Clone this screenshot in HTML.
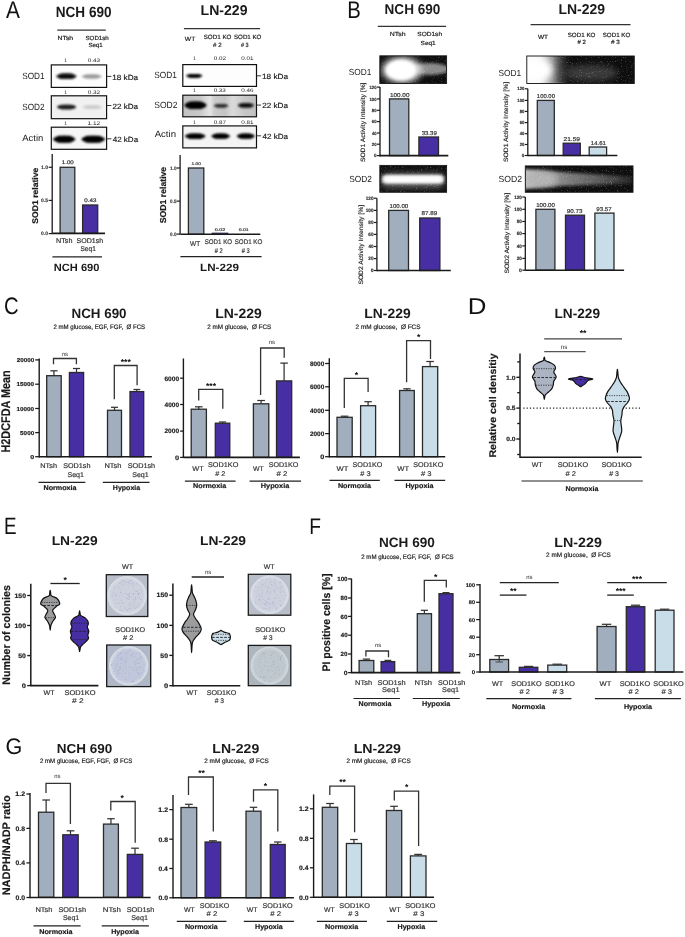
<!DOCTYPE html>
<html><head><meta charset="utf-8"><title>Figure</title>
<style>
html,body{margin:0;padding:0;background:#fff;}
svg{display:block;font-family:"Liberation Sans",sans-serif;will-change:transform;text-rendering:geometricPrecision;}
</style></head><body>
<svg width="685" height="937" viewBox="0 0 685 937">
<defs>
<filter id="bl1" x="-30%" y="-80%" width="160%" height="260%"><feGaussianBlur stdDeviation="0.7"/></filter>
<filter id="blb" x="-30%" y="-80%" width="160%" height="260%"><feGaussianBlur stdDeviation="0.85"/></filter>
<filter id="bl2" x="-30%" y="-80%" width="160%" height="260%"><feGaussianBlur stdDeviation="1.5"/></filter>
<filter id="bl3" x="-50%" y="-100%" width="200%" height="300%"><feGaussianBlur stdDeviation="3"/></filter>
<filter id="noise" x="0" y="0" width="100%" height="100%"><feTurbulence type="fractalNoise" baseFrequency="1.2" numOctaves="2" seed="3" result="n"/><feColorMatrix in="n" type="matrix" values="0 0 0 0 1  0 0 0 0 1  0 0 0 0 1  0 0 0 5 -3.0"/></filter>
<linearGradient id="sod2g" x1="0" x2="1" y1="0" y2="0">
<stop offset="0" stop-color="#c2c2c2"/><stop offset="0.23" stop-color="#c8c8c8"/><stop offset="0.33" stop-color="#dcdcdc"/><stop offset="0.37" stop-color="#e4e4e4"/><stop offset="0.43" stop-color="#cccccc"/><stop offset="0.57" stop-color="#c4c4c4"/><stop offset="0.67" stop-color="#dadada"/><stop offset="0.72" stop-color="#d6d6d6"/><stop offset="0.84" stop-color="#c6c6c6"/><stop offset="1" stop-color="#c0c0c0"/>
</linearGradient>
<linearGradient id="lnsod1" x1="0" x2="1" y1="0" y2="0"><stop offset="0" stop-color="#ffffff"/><stop offset="0.4" stop-color="#f4f4f4"/><stop offset="0.62" stop-color="#9a9a9a"/><stop offset="0.85" stop-color="#3a3a3a" stop-opacity="0.6"/><stop offset="1" stop-color="#1a1a1a" stop-opacity="0"/></linearGradient>
<linearGradient id="lnsod2" x1="0" x2="1" y1="0" y2="0"><stop offset="0" stop-color="#c4c4c4"/><stop offset="0.3" stop-color="#8a8a8a"/><stop offset="0.7" stop-color="#5a5a5a"/><stop offset="1" stop-color="#262626"/></linearGradient>
</defs>
<rect x="0" y="0" width="685" height="937" fill="#ffffff"/>
<text x="6.06" y="17.50" font-size="24.13" fill="#111" textLength="13.88" lengthAdjust="spacingAndGlyphs">A</text>
<text x="55.69" y="16.90" font-size="14.8" font-weight="bold" fill="#1a1a1a" textLength="55.87" lengthAdjust="spacingAndGlyphs">NCH 690</text>
<line x1="57.30" y1="30.10" x2="105.80" y2="30.10" stroke="#333" stroke-width="1.3"/>
<text x="57.57" y="40.00" font-size="5.9" font-weight="normal" fill="#1a1a1a" stroke="#1a1a1a" stroke-width="0.18" textLength="15.56" lengthAdjust="spacingAndGlyphs">NTsh</text>
<text x="85.52" y="40.00" font-size="5.9" font-weight="normal" fill="#1a1a1a" stroke="#1a1a1a" stroke-width="0.18" textLength="23.28" lengthAdjust="spacingAndGlyphs">SOD1sh</text>
<text x="88.42" y="46.90" font-size="5.9" font-weight="normal" fill="#1a1a1a" stroke="#1a1a1a" stroke-width="0.18" textLength="14.17" lengthAdjust="spacingAndGlyphs">Seq1</text>
<text x="64.30" y="61.90" font-size="5.0" font-weight="normal" fill="#222">1</text>
<text x="87.75" y="61.90" font-size="5.2" font-weight="normal" fill="#222" textLength="12.33" lengthAdjust="spacingAndGlyphs">0.43</text>
<text x="64.30" y="93.90" font-size="5.0" font-weight="normal" fill="#222">1</text>
<text x="87.75" y="93.90" font-size="5.2" font-weight="normal" fill="#222" textLength="12.37" lengthAdjust="spacingAndGlyphs">0.32</text>
<text x="64.30" y="125.00" font-size="5.0" font-weight="normal" fill="#222">1</text>
<text x="87.51" y="125.00" font-size="5.2" font-weight="normal" fill="#222" textLength="12.62" lengthAdjust="spacingAndGlyphs">1.12</text>
<rect x="51.30" y="64.90" width="55.30" height="22.50" fill="#fdfdfd" stroke="none" stroke-width="0"/>
<g filter="url(#blb)" opacity="1"><ellipse cx="66.35" cy="76.30" rx="10.15" ry="2.70" fill="#080808"/><rect x="58.64" y="73.60" width="15.43" height="5.40" rx="2.70" fill="#080808"/></g>
<g filter="url(#blb)" opacity="1"><ellipse cx="91.70" cy="76.40" rx="10.00" ry="2.00" fill="#9a9a9a"/><rect x="84.10" y="74.40" width="15.20" height="4.00" rx="2.00" fill="#9a9a9a"/></g>
<rect x="51.30" y="64.90" width="55.30" height="22.50" fill="none" stroke="#111" stroke-width="1.2"/>
<rect x="51.30" y="95.80" width="55.30" height="22.90" fill="#f1f1f1" stroke="none" stroke-width="0"/>
<g filter="url(#blb)" opacity="1"><ellipse cx="66.55" cy="107.00" rx="9.65" ry="2.30" fill="#1a1a1a"/><rect x="59.22" y="104.70" width="14.67" height="4.60" rx="2.30" fill="#1a1a1a"/></g>
<g filter="url(#blb)" opacity="1"><ellipse cx="92.20" cy="107.20" rx="9.50" ry="1.90" fill="#cdcdcd"/><rect x="84.98" y="105.30" width="14.44" height="3.80" rx="1.90" fill="#cdcdcd"/></g>
<rect x="51.30" y="95.80" width="55.30" height="22.90" fill="none" stroke="#111" stroke-width="1.2"/>
<rect x="51.30" y="127.20" width="55.30" height="22.10" fill="#f6f6f6" stroke="none" stroke-width="0"/>
<g filter="url(#blb)" opacity="1"><ellipse cx="64.20" cy="139.20" rx="11.20" ry="3.50" fill="#050505"/><rect x="55.69" y="135.70" width="17.02" height="7.00" rx="3.50" fill="#050505"/></g>
<g filter="url(#blb)" opacity="1"><ellipse cx="93.20" cy="139.20" rx="11.90" ry="3.50" fill="#050505"/><rect x="84.16" y="135.70" width="18.09" height="7.00" rx="3.50" fill="#050505"/></g>
<rect x="51.30" y="127.20" width="55.30" height="22.10" fill="none" stroke="#111" stroke-width="1.2"/>
<text x="22.23" y="79.00" font-size="9" font-weight="normal" fill="#1a1a1a" textLength="22.37" lengthAdjust="spacingAndGlyphs">SOD1</text>
<text x="22.23" y="110.30" font-size="9" font-weight="normal" fill="#1a1a1a" textLength="22.39" lengthAdjust="spacingAndGlyphs">SOD2</text>
<text x="22.28" y="141.40" font-size="9" font-weight="normal" fill="#1a1a1a" textLength="21.03" lengthAdjust="spacingAndGlyphs">Actin</text>
<line x1="106.60" y1="76.40" x2="111.40" y2="76.40" stroke="#222" stroke-width="0.9"/>
<text x="112.28" y="79.70" font-size="7.5" font-weight="normal" fill="#1a1a1a" stroke="#1a1a1a" stroke-width="0.18" textLength="25.82" lengthAdjust="spacingAndGlyphs">18 kDa</text>
<line x1="106.60" y1="105.50" x2="111.40" y2="105.50" stroke="#222" stroke-width="0.9"/>
<text x="112.49" y="108.80" font-size="7.5" font-weight="normal" fill="#1a1a1a" stroke="#1a1a1a" stroke-width="0.18" textLength="25.61" lengthAdjust="spacingAndGlyphs">22 kDa</text>
<line x1="106.60" y1="138.80" x2="111.40" y2="138.80" stroke="#222" stroke-width="0.9"/>
<text x="112.72" y="142.10" font-size="7.5" font-weight="normal" fill="#1a1a1a" stroke="#1a1a1a" stroke-width="0.18" textLength="25.38" lengthAdjust="spacingAndGlyphs">42 kDa</text>
<line x1="52.20" y1="154.00" x2="52.20" y2="234.25" stroke="#1a1a1a" stroke-width="1.3"/>
<line x1="48.70" y1="167.30" x2="52.20" y2="167.30" stroke="#1a1a1a" stroke-width="1.1700000000000002"/>
<text x="40.98" y="169.06" font-size="4.9" font-weight="bold" fill="#444" stroke="#444" stroke-width="0.18" textLength="7.13" lengthAdjust="spacingAndGlyphs">1.0</text>
<line x1="48.70" y1="200.40" x2="52.20" y2="200.40" stroke="#1a1a1a" stroke-width="1.1700000000000002"/>
<text x="41.10" y="202.16" font-size="4.9" font-weight="bold" fill="#444" stroke="#444" stroke-width="0.18" textLength="6.94" lengthAdjust="spacingAndGlyphs">0.5</text>
<line x1="48.70" y1="233.60" x2="52.20" y2="233.60" stroke="#1a1a1a" stroke-width="1.1700000000000002"/>
<text x="41.10" y="235.36" font-size="4.9" font-weight="bold" fill="#444" stroke="#444" stroke-width="0.18" textLength="7.01" lengthAdjust="spacingAndGlyphs">0.0</text>
<rect x="60.10" y="167.30" width="14.70" height="66.10" fill="#a0aebd" stroke="#2a2a2a" stroke-width="1.3"/>
<rect x="82.60" y="205.00" width="15.10" height="28.40" fill="#472fa3" stroke="#2a2a2a" stroke-width="1.3"/>
<line x1="52.60" y1="233.40" x2="105.00" y2="233.40" stroke="#1a1a1a" stroke-width="1.6"/>
<text x="61.83" y="164.00" font-size="5.2" font-weight="normal" fill="#333" stroke="#333" stroke-width="0.18" textLength="11.90" lengthAdjust="spacingAndGlyphs">1.00</text>
<text x="84.36" y="202.30" font-size="5.2" font-weight="normal" fill="#333" stroke="#333" stroke-width="0.18" textLength="12.01" lengthAdjust="spacingAndGlyphs">0.43</text>
<text transform="translate(38.30,223.65) rotate(-90)" x="0" y="0" font-size="8.3" font-weight="bold" fill="#1a1a1a" stroke="#1a1a1a" stroke-width="0.2" textLength="55.94" lengthAdjust="spacingAndGlyphs">SOD1 relative</text>
<text x="56.04" y="242.70" font-size="6.8" font-weight="normal" fill="#333" stroke="#333" stroke-width="0.18" textLength="16.41" lengthAdjust="spacingAndGlyphs">NTsh</text>
<text x="76.48" y="242.70" font-size="6.8" font-weight="normal" fill="#333" stroke="#333" stroke-width="0.18" textLength="26.78" lengthAdjust="spacingAndGlyphs">SOD1sh</text>
<text x="80.50" y="250.90" font-size="6.8" font-weight="normal" fill="#333" stroke="#333" stroke-width="0.18" textLength="15.32" lengthAdjust="spacingAndGlyphs">Seq1</text>
<line x1="52.40" y1="256.80" x2="102.00" y2="256.80" stroke="#222" stroke-width="1.2"/>
<text x="53.86" y="270.80" font-size="10.5" font-weight="bold" fill="#1a1a1a" textLength="45.60" lengthAdjust="spacingAndGlyphs">NCH 690</text>
<text x="200.56" y="15.40" font-size="14.2" font-weight="bold" fill="#1a1a1a" textLength="46.96" lengthAdjust="spacingAndGlyphs">LN-229</text>
<line x1="183.90" y1="28.60" x2="260.10" y2="28.60" stroke="#333" stroke-width="1.3"/>
<text x="184.87" y="40.90" font-size="6.2" font-weight="normal" fill="#1a1a1a" stroke="#1a1a1a" stroke-width="0.18" textLength="10.38" lengthAdjust="spacingAndGlyphs">WT</text>
<text x="203.72" y="38.80" font-size="6.2" font-weight="normal" fill="#1a1a1a" stroke="#1a1a1a" stroke-width="0.18" textLength="27.68" lengthAdjust="spacingAndGlyphs">SOD1 KO</text>
<text x="213.07" y="47.20" font-size="6.2" font-weight="normal" fill="#1a1a1a" stroke="#1a1a1a" stroke-width="0.18" textLength="8.54" lengthAdjust="spacingAndGlyphs"># 2</text>
<text x="234.02" y="38.80" font-size="6.2" font-weight="normal" fill="#1a1a1a" stroke="#1a1a1a" stroke-width="0.18" textLength="27.37" lengthAdjust="spacingAndGlyphs">SOD1 KO</text>
<text x="240.98" y="47.20" font-size="6.2" font-weight="normal" fill="#1a1a1a" stroke="#1a1a1a" stroke-width="0.18" textLength="7.67" lengthAdjust="spacingAndGlyphs"># 3</text>
<text x="193.00" y="59.90" font-size="5.0" font-weight="normal" fill="#222">1</text>
<text x="213.65" y="59.90" font-size="5.2" font-weight="normal" fill="#222" textLength="12.26" lengthAdjust="spacingAndGlyphs">0.02</text>
<text x="241.25" y="59.90" font-size="5.2" font-weight="normal" fill="#222" textLength="12.25" lengthAdjust="spacingAndGlyphs">0.01</text>
<text x="193.00" y="92.40" font-size="5.0" font-weight="normal" fill="#222">1</text>
<text x="213.65" y="92.40" font-size="5.2" font-weight="normal" fill="#222" textLength="12.22" lengthAdjust="spacingAndGlyphs">0.33</text>
<text x="241.25" y="92.40" font-size="5.2" font-weight="normal" fill="#222" textLength="12.22" lengthAdjust="spacingAndGlyphs">0.46</text>
<text x="193.00" y="123.70" font-size="5.0" font-weight="normal" fill="#222">1</text>
<text x="213.65" y="123.70" font-size="5.2" font-weight="normal" fill="#222" textLength="12.26" lengthAdjust="spacingAndGlyphs">0.87</text>
<text x="241.25" y="123.70" font-size="5.2" font-weight="normal" fill="#222" textLength="12.25" lengthAdjust="spacingAndGlyphs">0.81</text>
<rect x="182.80" y="64.60" width="73.70" height="21.80" fill="#fdfdfd" stroke="none" stroke-width="0"/>
<g filter="url(#blb)" opacity="1"><ellipse cx="194.20" cy="75.80" rx="8.20" ry="1.90" fill="#060606"/><rect x="187.97" y="73.90" width="12.46" height="3.80" rx="1.90" fill="#060606"/></g>
<rect x="182.80" y="64.60" width="73.70" height="21.80" fill="none" stroke="#111" stroke-width="1.2"/>
<rect x="182.8" y="95.2" width="73.7" height="21.6" fill="url(#sod2g)"/>
<g filter="url(#blb)" opacity="1"><ellipse cx="195.50" cy="105.20" rx="11.10" ry="3.80" fill="#000000"/><rect x="187.06" y="101.40" width="16.87" height="7.60" rx="3.80" fill="#000000"/></g>
<g filter="url(#blb)" opacity="1"><ellipse cx="221.05" cy="105.80" rx="7.25" ry="1.70" fill="#2a2a2a"/><rect x="215.54" y="104.10" width="11.02" height="3.40" rx="1.70" fill="#2a2a2a"/></g>
<g filter="url(#blb)" opacity="1"><ellipse cx="245.90" cy="105.40" rx="8.10" ry="2.20" fill="#0c0c0c"/><rect x="239.74" y="103.20" width="12.31" height="4.40" rx="2.20" fill="#0c0c0c"/></g>
<rect x="182.80" y="95.20" width="73.70" height="21.60" fill="none" stroke="#111" stroke-width="1.2"/>
<rect x="182.80" y="125.90" width="73.70" height="22.00" fill="#f4f4f4" stroke="none" stroke-width="0"/>
<g filter="url(#blb)" opacity="1"><ellipse cx="195.20" cy="136.20" rx="10.30" ry="2.70" fill="#050505"/><rect x="187.37" y="133.50" width="15.66" height="5.40" rx="2.70" fill="#050505"/></g>
<g filter="url(#blb)" opacity="1"><ellipse cx="220.70" cy="136.20" rx="9.30" ry="2.60" fill="#060606"/><rect x="213.63" y="133.60" width="14.14" height="5.20" rx="2.60" fill="#060606"/></g>
<g filter="url(#blb)" opacity="1"><ellipse cx="245.80" cy="136.20" rx="9.00" ry="2.60" fill="#060606"/><rect x="238.96" y="133.60" width="13.68" height="5.20" rx="2.60" fill="#060606"/></g>
<rect x="182.80" y="125.90" width="73.70" height="22.00" fill="none" stroke="#111" stroke-width="1.2"/>
<text x="154.32" y="78.30" font-size="9" font-weight="normal" fill="#1a1a1a" textLength="22.58" lengthAdjust="spacingAndGlyphs">SOD1</text>
<text x="154.31" y="108.30" font-size="9" font-weight="normal" fill="#1a1a1a" textLength="23.22" lengthAdjust="spacingAndGlyphs">SOD2</text>
<text x="154.68" y="136.90" font-size="9" font-weight="normal" fill="#1a1a1a" textLength="21.34" lengthAdjust="spacingAndGlyphs">Actin</text>
<line x1="256.50" y1="75.80" x2="261.10" y2="75.80" stroke="#222" stroke-width="0.9"/>
<text x="261.97" y="78.80" font-size="7.5" font-weight="normal" fill="#1a1a1a" stroke="#1a1a1a" stroke-width="0.18" textLength="26.03" lengthAdjust="spacingAndGlyphs">18 kDa</text>
<line x1="256.50" y1="105.10" x2="261.10" y2="105.10" stroke="#222" stroke-width="0.9"/>
<text x="262.19" y="108.10" font-size="7.5" font-weight="normal" fill="#1a1a1a" stroke="#1a1a1a" stroke-width="0.18" textLength="25.81" lengthAdjust="spacingAndGlyphs">22 kDa</text>
<line x1="256.50" y1="135.80" x2="261.10" y2="135.80" stroke="#222" stroke-width="0.9"/>
<text x="262.41" y="138.80" font-size="7.5" font-weight="normal" fill="#1a1a1a" stroke="#1a1a1a" stroke-width="0.18" textLength="25.59" lengthAdjust="spacingAndGlyphs">42 kDa</text>
<line x1="180.10" y1="155.00" x2="180.10" y2="234.75" stroke="#1a1a1a" stroke-width="1.3"/>
<line x1="176.60" y1="168.00" x2="180.10" y2="168.00" stroke="#1a1a1a" stroke-width="1.1700000000000002"/>
<text x="170.01" y="169.76" font-size="4.9" font-weight="bold" fill="#444" stroke="#444" stroke-width="0.18" textLength="6.49" lengthAdjust="spacingAndGlyphs">1.0</text>
<line x1="176.60" y1="201.10" x2="180.10" y2="201.10" stroke="#1a1a1a" stroke-width="1.1700000000000002"/>
<text x="170.12" y="202.86" font-size="4.9" font-weight="bold" fill="#444" stroke="#444" stroke-width="0.18" textLength="6.31" lengthAdjust="spacingAndGlyphs">0.5</text>
<line x1="176.60" y1="234.10" x2="180.10" y2="234.10" stroke="#1a1a1a" stroke-width="1.1700000000000002"/>
<text x="170.12" y="235.86" font-size="4.9" font-weight="bold" fill="#444" stroke="#444" stroke-width="0.18" textLength="6.37" lengthAdjust="spacingAndGlyphs">0.0</text>
<rect x="188.40" y="168.00" width="15.40" height="66.30" fill="#a0aebd" stroke="#2a2a2a" stroke-width="1.3"/>
<rect x="212.00" y="233.00" width="16.00" height="1.30" fill="#472fa3" stroke="#2a2a2a" stroke-width="0.7"/>
<line x1="180.60" y1="234.30" x2="260.30" y2="234.30" stroke="#1a1a1a" stroke-width="1.6"/>
<text x="191.63" y="164.80" font-size="4.0" font-weight="normal" fill="#333" stroke="#333" stroke-width="0.18" textLength="9.35" lengthAdjust="spacingAndGlyphs">1.00</text>
<text x="214.79" y="230.60" font-size="4.0" font-weight="normal" fill="#333" stroke="#333" stroke-width="0.18" textLength="10.48" lengthAdjust="spacingAndGlyphs">0.02</text>
<text x="238.80" y="230.80" font-size="4.0" font-weight="normal" fill="#333" stroke="#333" stroke-width="0.18" textLength="9.84" lengthAdjust="spacingAndGlyphs">0.01</text>
<text transform="translate(166.40,223.25) rotate(-90)" x="0" y="0" font-size="8.6" font-weight="bold" fill="#1a1a1a" stroke="#1a1a1a" stroke-width="0.2" textLength="56.45" lengthAdjust="spacingAndGlyphs">SOD1 relative</text>
<text x="190.07" y="246.00" font-size="6.8" font-weight="normal" fill="#333" stroke="#333" stroke-width="0.18" textLength="10.08" lengthAdjust="spacingAndGlyphs">WT</text>
<text x="204.72" y="244.20" font-size="6.7" font-weight="normal" fill="#333" stroke="#333" stroke-width="0.18" textLength="27.37" lengthAdjust="spacingAndGlyphs">SOD1 KO</text>
<text x="214.77" y="252.50" font-size="6.7" font-weight="normal" fill="#333" stroke="#333" stroke-width="0.18" textLength="8.02" lengthAdjust="spacingAndGlyphs"># 2</text>
<text x="234.72" y="244.20" font-size="6.7" font-weight="normal" fill="#333" stroke="#333" stroke-width="0.18" textLength="27.58" lengthAdjust="spacingAndGlyphs">SOD1 KO</text>
<text x="241.77" y="252.50" font-size="6.7" font-weight="normal" fill="#333" stroke="#333" stroke-width="0.18" textLength="7.98" lengthAdjust="spacingAndGlyphs"># 3</text>
<line x1="180.40" y1="256.60" x2="261.60" y2="256.60" stroke="#222" stroke-width="1.2"/>
<text x="200.02" y="271.00" font-size="10.5" font-weight="bold" fill="#1a1a1a" textLength="38.91" lengthAdjust="spacingAndGlyphs">LN-229</text>
<text x="347.14" y="17.50" font-size="24.13" fill="#111" textLength="13.54" lengthAdjust="spacingAndGlyphs">B</text>
<text x="384.59" y="14.40" font-size="14.2" font-weight="bold" fill="#1a1a1a" textLength="55.76" lengthAdjust="spacingAndGlyphs">NCH 690</text>
<line x1="377.80" y1="26.40" x2="446.10" y2="26.40" stroke="#333" stroke-width="1.2"/>
<text x="389.86" y="36.00" font-size="5.9" font-weight="normal" fill="#1a1a1a" stroke="#1a1a1a" stroke-width="0.18" textLength="15.66" lengthAdjust="spacingAndGlyphs">NTsh</text>
<text x="417.30" y="36.00" font-size="5.9" font-weight="normal" fill="#1a1a1a" stroke="#1a1a1a" stroke-width="0.18" textLength="24.72" lengthAdjust="spacingAndGlyphs">SOD1sh</text>
<text x="420.61" y="44.60" font-size="5.9" font-weight="normal" fill="#1a1a1a" stroke="#1a1a1a" stroke-width="0.18" textLength="15.11" lengthAdjust="spacingAndGlyphs">Seq1</text>
<clipPath id="gc1"><rect x="379.8" y="55.8" width="66.80000000000001" height="27.700000000000003"/></clipPath>
<g clip-path="url(#gc1)">
<rect x="379.8" y="55.8" width="66.80000000000001" height="27.700000000000003" fill="#0e0e0e"/>
<ellipse cx="430" cy="69" rx="19" ry="6" fill="#8a8a8a" filter="url(#bl2)"/>
<ellipse cx="402" cy="70" rx="20" ry="13" fill="#dddddd" filter="url(#bl3)"/>
<ellipse cx="401" cy="70" rx="15" ry="10" fill="#ffffff" filter="url(#bl2)"/>
<rect x="379.8" y="55.8" width="66.80000000000001" height="27.700000000000003" fill="#000" filter="url(#noise)" opacity="0.22"/>
</g>
<rect x="379.80" y="55.80" width="66.80" height="27.70" fill="none" stroke="#111" stroke-width="0.9"/>
<text x="348.82" y="75.10" font-size="8.9" font-weight="normal" fill="#1a1a1a" textLength="22.69" lengthAdjust="spacingAndGlyphs">SOD1</text>
<line x1="380.00" y1="87.10" x2="380.00" y2="156.45" stroke="#1a1a1a" stroke-width="1.3"/>
<line x1="377.00" y1="87.10" x2="380.00" y2="87.10" stroke="#1a1a1a" stroke-width="1.1700000000000002"/>
<text x="369.53" y="88.72" font-size="4.5" font-weight="bold" fill="#333" stroke="#333" stroke-width="0.18" textLength="7.04" lengthAdjust="spacingAndGlyphs">120</text>
<line x1="377.00" y1="98.90" x2="380.00" y2="98.90" stroke="#1a1a1a" stroke-width="1.1700000000000002"/>
<text x="369.53" y="100.52" font-size="4.5" font-weight="bold" fill="#333" stroke="#333" stroke-width="0.18" textLength="7.04" lengthAdjust="spacingAndGlyphs">100</text>
<line x1="377.00" y1="110.30" x2="380.00" y2="110.30" stroke="#1a1a1a" stroke-width="1.1700000000000002"/>
<text x="371.87" y="111.92" font-size="4.5" font-weight="bold" fill="#333" stroke="#333" stroke-width="0.18" textLength="4.71" lengthAdjust="spacingAndGlyphs">80</text>
<line x1="377.00" y1="121.60" x2="380.00" y2="121.60" stroke="#1a1a1a" stroke-width="1.1700000000000002"/>
<text x="371.84" y="123.22" font-size="4.5" font-weight="bold" fill="#333" stroke="#333" stroke-width="0.18" textLength="4.73" lengthAdjust="spacingAndGlyphs">60</text>
<line x1="377.00" y1="133.00" x2="380.00" y2="133.00" stroke="#1a1a1a" stroke-width="1.1700000000000002"/>
<text x="371.94" y="134.62" font-size="4.5" font-weight="bold" fill="#333" stroke="#333" stroke-width="0.18" textLength="4.63" lengthAdjust="spacingAndGlyphs">40</text>
<line x1="377.00" y1="144.20" x2="380.00" y2="144.20" stroke="#1a1a1a" stroke-width="1.1700000000000002"/>
<text x="371.85" y="145.82" font-size="4.5" font-weight="bold" fill="#333" stroke="#333" stroke-width="0.18" textLength="4.72" lengthAdjust="spacingAndGlyphs">20</text>
<line x1="377.00" y1="155.60" x2="380.00" y2="155.60" stroke="#1a1a1a" stroke-width="1.1700000000000002"/>
<text x="374.02" y="157.22" font-size="4.5" font-weight="bold" fill="#333" stroke="#333" stroke-width="0.18" textLength="2.57" lengthAdjust="spacingAndGlyphs">0</text>
<rect x="389.50" y="98.90" width="19.30" height="56.70" fill="#a0aebd" stroke="#2a2a2a" stroke-width="1.3"/>
<rect x="418.90" y="137.00" width="19.60" height="18.60" fill="#472fa3" stroke="#2a2a2a" stroke-width="1.3"/>
<line x1="379.80" y1="155.60" x2="448.30" y2="155.60" stroke="#1a1a1a" stroke-width="1.6"/>
<text x="389.91" y="96.90" font-size="5.6" font-weight="normal" fill="#333" stroke="#333" stroke-width="0.18" textLength="19.54" lengthAdjust="spacingAndGlyphs">100.00</text>
<text x="421.67" y="135.30" font-size="5.6" font-weight="normal" fill="#333" stroke="#333" stroke-width="0.18" textLength="15.12" lengthAdjust="spacingAndGlyphs">33.39</text>
<text transform="translate(365.30,162.10) rotate(-90)" x="0" y="0" font-size="6.3" font-weight="normal" fill="#222" stroke="#222" stroke-width="0.15" textLength="79.58" lengthAdjust="spacingAndGlyphs">SOD1 Activity Intensity [%]</text>
<clipPath id="gc2"><rect x="379.8" y="165.4" width="66.80000000000001" height="26.900000000000006"/></clipPath>
<g clip-path="url(#gc2)">
<rect x="379.8" y="165.4" width="66.80000000000001" height="26.900000000000006" fill="#0e0e0e"/>
<rect x="381" y="173" width="64" height="15" rx="7" fill="#5e5e5e" filter="url(#bl3)"/>
<rect x="382" y="175" width="62" height="8.5" rx="4" fill="#eeeeee" filter="url(#bl2)"/>
<rect x="385" y="176.6" width="56" height="5.4" rx="2.7" fill="#ffffff" filter="url(#bl2)"/>
<rect x="379.8" y="165.4" width="66.80000000000001" height="26.900000000000006" fill="#000" filter="url(#noise)" opacity="0.22"/>
</g>
<rect x="379.80" y="165.40" width="66.80" height="26.90" fill="none" stroke="#111" stroke-width="0.9"/>
<text x="349.32" y="181.90" font-size="8.9" font-weight="normal" fill="#1a1a1a" textLength="22.70" lengthAdjust="spacingAndGlyphs">SOD2</text>
<line x1="376.90" y1="198.20" x2="376.90" y2="271.15" stroke="#1a1a1a" stroke-width="1.3"/>
<line x1="373.90" y1="198.20" x2="376.90" y2="198.20" stroke="#1a1a1a" stroke-width="1.1700000000000002"/>
<text x="365.81" y="199.93" font-size="4.8" font-weight="bold" fill="#333" stroke="#333" stroke-width="0.18" textLength="7.68" lengthAdjust="spacingAndGlyphs">120</text>
<line x1="373.90" y1="210.40" x2="376.90" y2="210.40" stroke="#1a1a1a" stroke-width="1.1700000000000002"/>
<text x="365.81" y="212.13" font-size="4.8" font-weight="bold" fill="#333" stroke="#333" stroke-width="0.18" textLength="7.68" lengthAdjust="spacingAndGlyphs">100</text>
<line x1="373.90" y1="222.50" x2="376.90" y2="222.50" stroke="#1a1a1a" stroke-width="1.1700000000000002"/>
<text x="368.35" y="224.23" font-size="4.8" font-weight="bold" fill="#333" stroke="#333" stroke-width="0.18" textLength="5.14" lengthAdjust="spacingAndGlyphs">80</text>
<line x1="373.90" y1="234.40" x2="376.90" y2="234.40" stroke="#1a1a1a" stroke-width="1.1700000000000002"/>
<text x="368.33" y="236.13" font-size="4.8" font-weight="bold" fill="#333" stroke="#333" stroke-width="0.18" textLength="5.16" lengthAdjust="spacingAndGlyphs">60</text>
<line x1="373.90" y1="246.50" x2="376.90" y2="246.50" stroke="#1a1a1a" stroke-width="1.1700000000000002"/>
<text x="368.43" y="248.23" font-size="4.8" font-weight="bold" fill="#333" stroke="#333" stroke-width="0.18" textLength="5.06" lengthAdjust="spacingAndGlyphs">40</text>
<line x1="373.90" y1="258.60" x2="376.90" y2="258.60" stroke="#1a1a1a" stroke-width="1.1700000000000002"/>
<text x="368.34" y="260.33" font-size="4.8" font-weight="bold" fill="#333" stroke="#333" stroke-width="0.18" textLength="5.15" lengthAdjust="spacingAndGlyphs">20</text>
<line x1="373.90" y1="270.50" x2="376.90" y2="270.50" stroke="#1a1a1a" stroke-width="1.1700000000000002"/>
<text x="370.70" y="272.23" font-size="4.8" font-weight="bold" fill="#333" stroke="#333" stroke-width="0.18" textLength="2.81" lengthAdjust="spacingAndGlyphs">0</text>
<rect x="388.70" y="210.40" width="19.80" height="60.10" fill="#a0aebd" stroke="#2a2a2a" stroke-width="1.3"/>
<rect x="419.70" y="218.00" width="20.20" height="52.50" fill="#472fa3" stroke="#2a2a2a" stroke-width="1.3"/>
<line x1="376.90" y1="270.50" x2="450.80" y2="270.50" stroke="#1a1a1a" stroke-width="1.6"/>
<text x="389.53" y="207.60" font-size="5.6" font-weight="normal" fill="#333" stroke="#333" stroke-width="0.18" textLength="18.70" lengthAdjust="spacingAndGlyphs">100.00</text>
<text x="421.63" y="215.00" font-size="5.6" font-weight="normal" fill="#333" stroke="#333" stroke-width="0.18" textLength="15.67" lengthAdjust="spacingAndGlyphs">87.89</text>
<text transform="translate(362.50,284.60) rotate(-90)" x="0" y="0" font-size="6.3" font-weight="normal" fill="#222" stroke="#222" stroke-width="0.15" textLength="79.68" lengthAdjust="spacingAndGlyphs">SOD2 Activity Intensity [%]</text>
<text x="558.46" y="14.40" font-size="14.2" font-weight="bold" fill="#1a1a1a" textLength="46.66" lengthAdjust="spacingAndGlyphs">LN-229</text>
<line x1="530.60" y1="24.70" x2="630.50" y2="24.70" stroke="#333" stroke-width="1.2"/>
<text x="537.97" y="38.60" font-size="6.0" font-weight="normal" fill="#1a1a1a" stroke="#1a1a1a" stroke-width="0.18" textLength="10.08" lengthAdjust="spacingAndGlyphs">WT</text>
<text x="567.72" y="36.50" font-size="6.0" font-weight="normal" fill="#1a1a1a" stroke="#1a1a1a" stroke-width="0.18" textLength="27.68" lengthAdjust="spacingAndGlyphs">SOD1 KO</text>
<text x="577.57" y="43.90" font-size="6.0" font-weight="normal" fill="#1a1a1a" stroke="#1a1a1a" stroke-width="0.18" textLength="8.33" lengthAdjust="spacingAndGlyphs"># 2</text>
<text x="602.72" y="36.50" font-size="6.0" font-weight="normal" fill="#1a1a1a" stroke="#1a1a1a" stroke-width="0.18" textLength="27.58" lengthAdjust="spacingAndGlyphs">SOD1 KO</text>
<text x="610.97" y="43.90" font-size="6.0" font-weight="normal" fill="#1a1a1a" stroke="#1a1a1a" stroke-width="0.18" textLength="8.81" lengthAdjust="spacingAndGlyphs"># 3</text>
<clipPath id="gc3"><rect x="526.8" y="56.0" width="107.5" height="27.5"/></clipPath>
<g clip-path="url(#gc3)">
<rect x="526.8" y="56.0" width="107.5" height="27.5" fill="#0e0e0e"/>
<ellipse cx="590" cy="73" rx="28" ry="8" fill="#3a3a3a" filter="url(#bl3)"/>
<rect x="520" y="54" width="52" height="32" fill="url(#lnsod1)" filter="url(#bl2)"/>
<ellipse cx="538" cy="70" rx="14" ry="11" fill="#ffffff" filter="url(#bl3)"/>
<rect x="526.8" y="56.0" width="107.5" height="27.5" fill="#000" filter="url(#noise)" opacity="0.22"/>
</g>
<rect x="526.80" y="56.00" width="107.50" height="27.50" fill="none" stroke="#111" stroke-width="0.9"/>
<text x="498.42" y="76.10" font-size="8.9" font-weight="normal" fill="#1a1a1a" textLength="22.79" lengthAdjust="spacingAndGlyphs">SOD1</text>
<line x1="527.80" y1="88.80" x2="527.80" y2="156.15" stroke="#1a1a1a" stroke-width="1.3"/>
<line x1="524.80" y1="88.80" x2="527.80" y2="88.80" stroke="#1a1a1a" stroke-width="1.1700000000000002"/>
<text x="517.33" y="90.42" font-size="4.5" font-weight="bold" fill="#333" stroke="#333" stroke-width="0.18" textLength="7.04" lengthAdjust="spacingAndGlyphs">120</text>
<line x1="524.80" y1="100.40" x2="527.80" y2="100.40" stroke="#1a1a1a" stroke-width="1.1700000000000002"/>
<text x="517.33" y="102.02" font-size="4.5" font-weight="bold" fill="#333" stroke="#333" stroke-width="0.18" textLength="7.04" lengthAdjust="spacingAndGlyphs">100</text>
<line x1="524.80" y1="111.40" x2="527.80" y2="111.40" stroke="#1a1a1a" stroke-width="1.1700000000000002"/>
<text x="519.67" y="113.02" font-size="4.5" font-weight="bold" fill="#333" stroke="#333" stroke-width="0.18" textLength="4.71" lengthAdjust="spacingAndGlyphs">80</text>
<line x1="524.80" y1="122.60" x2="527.80" y2="122.60" stroke="#1a1a1a" stroke-width="1.1700000000000002"/>
<text x="519.64" y="124.22" font-size="4.5" font-weight="bold" fill="#333" stroke="#333" stroke-width="0.18" textLength="4.73" lengthAdjust="spacingAndGlyphs">60</text>
<line x1="524.80" y1="133.70" x2="527.80" y2="133.70" stroke="#1a1a1a" stroke-width="1.1700000000000002"/>
<text x="519.74" y="135.32" font-size="4.5" font-weight="bold" fill="#333" stroke="#333" stroke-width="0.18" textLength="4.63" lengthAdjust="spacingAndGlyphs">40</text>
<line x1="524.80" y1="144.50" x2="527.80" y2="144.50" stroke="#1a1a1a" stroke-width="1.1700000000000002"/>
<text x="519.65" y="146.12" font-size="4.5" font-weight="bold" fill="#333" stroke="#333" stroke-width="0.18" textLength="4.72" lengthAdjust="spacingAndGlyphs">20</text>
<line x1="524.80" y1="155.50" x2="527.80" y2="155.50" stroke="#1a1a1a" stroke-width="1.1700000000000002"/>
<text x="521.82" y="157.12" font-size="4.5" font-weight="bold" fill="#333" stroke="#333" stroke-width="0.18" textLength="2.57" lengthAdjust="spacingAndGlyphs">0</text>
<rect x="537.30" y="100.40" width="17.00" height="55.10" fill="#a0aebd" stroke="#2a2a2a" stroke-width="1.3"/>
<rect x="563.20" y="143.20" width="17.10" height="12.30" fill="#472fa3" stroke="#2a2a2a" stroke-width="1.3"/>
<rect x="589.20" y="147.00" width="17.40" height="8.50" fill="#c9dde8" stroke="#2a2a2a" stroke-width="1.3"/>
<line x1="527.80" y1="155.50" x2="617.40" y2="155.50" stroke="#1a1a1a" stroke-width="1.6"/>
<text x="536.85" y="97.90" font-size="5.6" font-weight="normal" fill="#333" stroke="#333" stroke-width="0.18" textLength="18.08" lengthAdjust="spacingAndGlyphs">100.00</text>
<text x="563.47" y="140.70" font-size="5.6" font-weight="normal" fill="#333" stroke="#333" stroke-width="0.18" textLength="16.55" lengthAdjust="spacingAndGlyphs">21.59</text>
<text x="590.85" y="144.50" font-size="5.6" font-weight="normal" fill="#333" stroke="#333" stroke-width="0.18" textLength="14.95" lengthAdjust="spacingAndGlyphs">14.61</text>
<text transform="translate(508.30,161.91) rotate(-90)" x="0" y="0" font-size="6.3" font-weight="normal" fill="#222" stroke="#222" stroke-width="0.15" textLength="79.98" lengthAdjust="spacingAndGlyphs">SOD1 Activity Intensity [%]</text>
<clipPath id="gc4"><rect x="525.3" y="165.9" width="107.70000000000005" height="26.400000000000006"/></clipPath>
<g clip-path="url(#gc4)">
<rect x="525.3" y="165.9" width="107.70000000000005" height="26.400000000000006" fill="#0e0e0e"/>
<polygon points="524,169 560,172 632,176.5 632,183.5 560,186 524,189" fill="url(#lnsod2)" filter="url(#bl2)"/>
<ellipse cx="542" cy="179" rx="16" ry="7" fill="#b4b4b4" filter="url(#bl3)"/>
<rect x="525.3" y="165.9" width="107.70000000000005" height="26.400000000000006" fill="#000" filter="url(#noise)" opacity="0.22"/>
</g>
<rect x="525.30" y="165.90" width="107.70" height="26.40" fill="none" stroke="#111" stroke-width="0.9"/>
<text x="498.41" y="182.20" font-size="8.9" font-weight="normal" fill="#1a1a1a" textLength="23.53" lengthAdjust="spacingAndGlyphs">SOD2</text>
<line x1="525.30" y1="197.00" x2="525.30" y2="270.85" stroke="#1a1a1a" stroke-width="1.3"/>
<line x1="522.30" y1="197.00" x2="525.30" y2="197.00" stroke="#1a1a1a" stroke-width="1.1700000000000002"/>
<text x="514.21" y="198.73" font-size="4.8" font-weight="bold" fill="#333" stroke="#333" stroke-width="0.18" textLength="7.68" lengthAdjust="spacingAndGlyphs">120</text>
<line x1="522.30" y1="209.30" x2="525.30" y2="209.30" stroke="#1a1a1a" stroke-width="1.1700000000000002"/>
<text x="514.21" y="211.03" font-size="4.8" font-weight="bold" fill="#333" stroke="#333" stroke-width="0.18" textLength="7.68" lengthAdjust="spacingAndGlyphs">100</text>
<line x1="522.30" y1="221.50" x2="525.30" y2="221.50" stroke="#1a1a1a" stroke-width="1.1700000000000002"/>
<text x="516.75" y="223.23" font-size="4.8" font-weight="bold" fill="#333" stroke="#333" stroke-width="0.18" textLength="5.14" lengthAdjust="spacingAndGlyphs">80</text>
<line x1="522.30" y1="233.60" x2="525.30" y2="233.60" stroke="#1a1a1a" stroke-width="1.1700000000000002"/>
<text x="516.73" y="235.33" font-size="4.8" font-weight="bold" fill="#333" stroke="#333" stroke-width="0.18" textLength="5.16" lengthAdjust="spacingAndGlyphs">60</text>
<line x1="522.30" y1="245.90" x2="525.30" y2="245.90" stroke="#1a1a1a" stroke-width="1.1700000000000002"/>
<text x="516.83" y="247.63" font-size="4.8" font-weight="bold" fill="#333" stroke="#333" stroke-width="0.18" textLength="5.06" lengthAdjust="spacingAndGlyphs">40</text>
<line x1="522.30" y1="258.40" x2="525.30" y2="258.40" stroke="#1a1a1a" stroke-width="1.1700000000000002"/>
<text x="516.74" y="260.13" font-size="4.8" font-weight="bold" fill="#333" stroke="#333" stroke-width="0.18" textLength="5.15" lengthAdjust="spacingAndGlyphs">20</text>
<line x1="522.30" y1="270.20" x2="525.30" y2="270.20" stroke="#1a1a1a" stroke-width="1.1700000000000002"/>
<text x="519.10" y="271.93" font-size="4.8" font-weight="bold" fill="#333" stroke="#333" stroke-width="0.18" textLength="2.81" lengthAdjust="spacingAndGlyphs">0</text>
<rect x="535.90" y="209.30" width="19.00" height="60.90" fill="#a0aebd" stroke="#2a2a2a" stroke-width="1.3"/>
<rect x="565.50" y="215.20" width="19.00" height="55.00" fill="#472fa3" stroke="#2a2a2a" stroke-width="1.3"/>
<rect x="594.90" y="213.10" width="19.10" height="57.10" fill="#c9dde8" stroke="#2a2a2a" stroke-width="1.3"/>
<line x1="525.30" y1="270.20" x2="624.10" y2="270.20" stroke="#1a1a1a" stroke-width="1.6"/>
<text x="536.23" y="206.70" font-size="5.6" font-weight="normal" fill="#333" stroke="#333" stroke-width="0.18" textLength="18.70" lengthAdjust="spacingAndGlyphs">100.00</text>
<text x="566.70" y="212.90" font-size="5.6" font-weight="normal" fill="#333" stroke="#333" stroke-width="0.18" textLength="15.77" lengthAdjust="spacingAndGlyphs">90.73</text>
<text x="596.31" y="210.80" font-size="5.6" font-weight="normal" fill="#333" stroke="#333" stroke-width="0.18" textLength="15.40" lengthAdjust="spacingAndGlyphs">93.57</text>
<text transform="translate(508.60,273.51) rotate(-90)" x="0" y="0" font-size="6.3" font-weight="normal" fill="#222" stroke="#222" stroke-width="0.15" textLength="80.59" lengthAdjust="spacingAndGlyphs">SOD2 Activity Intensity [%]</text>
<text x="3.93" y="313.66" font-size="23.87" fill="#111" textLength="14.65" lengthAdjust="spacingAndGlyphs">C</text>
<text x="71.50" y="318.00" font-size="13.6" font-weight="bold" fill="#1a1a1a" textLength="55.04" lengthAdjust="spacingAndGlyphs">NCH 690</text>
<text x="53.40" y="329.40" font-size="6.5" font-weight="normal" fill="#1a1a1a" stroke="#1a1a1a" stroke-width="0.18" textLength="91.78" lengthAdjust="spacingAndGlyphs">2 mM glucose, EGF, FGF,  Ø FCS</text>
<line x1="39.20" y1="358.50" x2="39.20" y2="457.40" stroke="#1a1a1a" stroke-width="1.4"/>
<line x1="35.20" y1="359.90" x2="39.20" y2="359.90" stroke="#1a1a1a" stroke-width="1.26"/>
<text x="16.68" y="361.95" font-size="5.7" font-weight="bold" fill="#222" stroke="#222" stroke-width="0.18" textLength="17.48" lengthAdjust="spacingAndGlyphs">20000</text>
<line x1="35.20" y1="384.20" x2="39.20" y2="384.20" stroke="#1a1a1a" stroke-width="1.26"/>
<text x="16.50" y="386.25" font-size="5.7" font-weight="bold" fill="#222" stroke="#222" stroke-width="0.18" textLength="17.66" lengthAdjust="spacingAndGlyphs">15000</text>
<line x1="35.20" y1="408.50" x2="39.20" y2="408.50" stroke="#1a1a1a" stroke-width="1.26"/>
<text x="16.50" y="410.55" font-size="5.7" font-weight="bold" fill="#222" stroke="#222" stroke-width="0.18" textLength="17.66" lengthAdjust="spacingAndGlyphs">10000</text>
<line x1="35.20" y1="432.60" x2="39.20" y2="432.60" stroke="#1a1a1a" stroke-width="1.26"/>
<text x="20.11" y="434.65" font-size="5.7" font-weight="bold" fill="#222" stroke="#222" stroke-width="0.18" textLength="14.05" lengthAdjust="spacingAndGlyphs">5000</text>
<line x1="35.20" y1="456.70" x2="39.20" y2="456.70" stroke="#1a1a1a" stroke-width="1.26"/>
<text x="30.22" y="458.75" font-size="5.7" font-weight="bold" fill="#222" stroke="#222" stroke-width="0.18" textLength="3.98" lengthAdjust="spacingAndGlyphs">0</text>
<rect x="46.70" y="375.70" width="14.50" height="81.00" fill="#a0aebd" stroke="#2a2a2a" stroke-width="1.3"/>
<line x1="53.95" y1="375.70" x2="53.95" y2="370.80" stroke="#333" stroke-width="1.25"/>
<line x1="50.33" y1="370.80" x2="57.58" y2="370.80" stroke="#333" stroke-width="1.25"/>
<rect x="69.40" y="372.50" width="14.20" height="84.20" fill="#472fa3" stroke="#2a2a2a" stroke-width="1.3"/>
<line x1="76.50" y1="372.50" x2="76.50" y2="368.50" stroke="#333" stroke-width="1.25"/>
<line x1="72.95" y1="368.50" x2="80.05" y2="368.50" stroke="#333" stroke-width="1.25"/>
<rect x="107.50" y="410.30" width="14.00" height="46.40" fill="#a0aebd" stroke="#2a2a2a" stroke-width="1.3"/>
<line x1="114.50" y1="410.30" x2="114.50" y2="407.30" stroke="#333" stroke-width="1.25"/>
<line x1="111.00" y1="407.30" x2="118.00" y2="407.30" stroke="#333" stroke-width="1.25"/>
<rect x="130.00" y="391.60" width="13.70" height="65.10" fill="#472fa3" stroke="#2a2a2a" stroke-width="1.3"/>
<line x1="136.85" y1="391.60" x2="136.85" y2="389.50" stroke="#333" stroke-width="1.25"/>
<line x1="133.43" y1="389.50" x2="140.27" y2="389.50" stroke="#333" stroke-width="1.25"/>
<line x1="39.20" y1="456.70" x2="151.90" y2="456.70" stroke="#1a1a1a" stroke-width="1.6"/>
<path d="M53.50,364.30 V358.50 H76.40 V364.30" stroke="#333" stroke-width="1.3" fill="none"/>
<text x="64.90" y="355.79" font-size="5.9" fill="#2a2a2a" text-anchor="middle">ns</text>
<path d="M114.30,399.30 V365.50 H137.10 V385.30" stroke="#333" stroke-width="1.3" fill="none"/>
<text x="125.80" y="365.32" font-size="8.6" font-weight="bold" fill="#111" text-anchor="middle">***</text>
<text transform="translate(10.40,452.52) rotate(-90)" x="0" y="0" font-size="12.6" font-weight="bold" fill="#1a1a1a" stroke="#1a1a1a" stroke-width="0.2" textLength="82.19" lengthAdjust="spacingAndGlyphs">H2DCFDA Mean</text>
<text x="40.33" y="467.80" font-size="6.9" font-weight="normal" fill="#333" stroke="#333" stroke-width="0.18" textLength="16.62" lengthAdjust="spacingAndGlyphs">NTsh</text>
<text x="63.17" y="467.80" font-size="6.9" font-weight="normal" fill="#333" stroke="#333" stroke-width="0.18" textLength="27.30" lengthAdjust="spacingAndGlyphs">SOD1sh</text>
<text x="67.48" y="476.60" font-size="6.9" font-weight="normal" fill="#333" stroke="#333" stroke-width="0.18" textLength="16.46" lengthAdjust="spacingAndGlyphs">Seq1</text>
<text x="104.41" y="467.80" font-size="6.9" font-weight="normal" fill="#333" stroke="#333" stroke-width="0.18" textLength="17.05" lengthAdjust="spacingAndGlyphs">NTsh</text>
<text x="127.67" y="467.80" font-size="6.9" font-weight="normal" fill="#333" stroke="#333" stroke-width="0.18" textLength="27.50" lengthAdjust="spacingAndGlyphs">SOD1sh</text>
<text x="132.18" y="476.60" font-size="6.9" font-weight="normal" fill="#333" stroke="#333" stroke-width="0.18" textLength="16.57" lengthAdjust="spacingAndGlyphs">Seq1</text>
<line x1="38.50" y1="482.40" x2="85.30" y2="482.40" stroke="#222" stroke-width="1.2"/>
<text x="43.52" y="490.20" font-size="6.8" font-weight="bold" fill="#1a1a1a" stroke="#1a1a1a" stroke-width="0.18" textLength="33.03" lengthAdjust="spacingAndGlyphs">Normoxia</text>
<line x1="102.80" y1="482.40" x2="149.50" y2="482.40" stroke="#222" stroke-width="1.2"/>
<text x="112.83" y="490.40" font-size="6.8" font-weight="bold" fill="#1a1a1a" stroke="#1a1a1a" stroke-width="0.18" textLength="27.33" lengthAdjust="spacingAndGlyphs">Hypoxia</text>
<text x="215.27" y="318.00" font-size="13.6" font-weight="bold" fill="#1a1a1a" textLength="46.55" lengthAdjust="spacingAndGlyphs">LN-229</text>
<text x="207.28" y="329.40" font-size="6.5" font-weight="normal" fill="#1a1a1a" stroke="#1a1a1a" stroke-width="0.18" textLength="64.01" lengthAdjust="spacingAndGlyphs">2 mM glucose,  Ø FCS</text>
<line x1="183.40" y1="358.50" x2="183.40" y2="458.10" stroke="#1a1a1a" stroke-width="1.4"/>
<line x1="180.10" y1="378.20" x2="183.40" y2="378.20" stroke="#1a1a1a" stroke-width="1.26"/>
<text x="164.44" y="380.54" font-size="6.5" font-weight="bold" fill="#222" stroke="#222" stroke-width="0.18" textLength="14.63" lengthAdjust="spacingAndGlyphs">6000</text>
<line x1="180.10" y1="404.50" x2="183.40" y2="404.50" stroke="#1a1a1a" stroke-width="1.26"/>
<text x="164.58" y="406.84" font-size="6.5" font-weight="bold" fill="#222" stroke="#222" stroke-width="0.18" textLength="14.49" lengthAdjust="spacingAndGlyphs">4000</text>
<line x1="180.10" y1="431.10" x2="183.40" y2="431.10" stroke="#1a1a1a" stroke-width="1.26"/>
<text x="164.45" y="433.44" font-size="6.5" font-weight="bold" fill="#222" stroke="#222" stroke-width="0.18" textLength="14.62" lengthAdjust="spacingAndGlyphs">2000</text>
<line x1="180.10" y1="457.40" x2="183.40" y2="457.40" stroke="#1a1a1a" stroke-width="1.26"/>
<text x="174.98" y="459.74" font-size="6.5" font-weight="bold" fill="#222" stroke="#222" stroke-width="0.18" textLength="4.13" lengthAdjust="spacingAndGlyphs">0</text>
<rect x="191.20" y="409.20" width="15.20" height="48.20" fill="#a0aebd" stroke="#2a2a2a" stroke-width="1.3"/>
<line x1="198.80" y1="409.20" x2="198.80" y2="406.80" stroke="#333" stroke-width="1.25"/>
<line x1="195.00" y1="406.80" x2="202.60" y2="406.80" stroke="#333" stroke-width="1.25"/>
<rect x="215.30" y="423.20" width="14.50" height="34.20" fill="#472fa3" stroke="#2a2a2a" stroke-width="1.3"/>
<line x1="222.55" y1="423.20" x2="222.55" y2="422.00" stroke="#333" stroke-width="1.25"/>
<line x1="218.93" y1="422.00" x2="226.18" y2="422.00" stroke="#333" stroke-width="1.25"/>
<rect x="253.40" y="403.80" width="15.40" height="53.60" fill="#a0aebd" stroke="#2a2a2a" stroke-width="1.3"/>
<line x1="261.10" y1="403.80" x2="261.10" y2="400.50" stroke="#333" stroke-width="1.25"/>
<line x1="257.25" y1="400.50" x2="264.95" y2="400.50" stroke="#333" stroke-width="1.25"/>
<rect x="276.50" y="380.90" width="15.20" height="76.50" fill="#472fa3" stroke="#2a2a2a" stroke-width="1.3"/>
<line x1="284.10" y1="380.90" x2="284.10" y2="363.10" stroke="#333" stroke-width="1.25"/>
<line x1="280.30" y1="363.10" x2="287.90" y2="363.10" stroke="#333" stroke-width="1.25"/>
<line x1="183.70" y1="457.40" x2="299.90" y2="457.40" stroke="#1a1a1a" stroke-width="1.6"/>
<path d="M198.70,400.50 V389.30 H222.80 V408.70" stroke="#333" stroke-width="1.3" fill="none"/>
<text x="211.00" y="388.62" font-size="8.6" font-weight="bold" fill="#111" text-anchor="middle">***</text>
<path d="M260.60,395.00 V348.00 H284.20 V357.80" stroke="#333" stroke-width="1.3" fill="none"/>
<text x="271.90" y="343.59" font-size="5.9" fill="#2a2a2a" text-anchor="middle">ns</text>
<text x="192.37" y="470.90" font-size="6.9" font-weight="normal" fill="#333" stroke="#333" stroke-width="0.18" textLength="11.40" lengthAdjust="spacingAndGlyphs">WT</text>
<text x="207.97" y="467.20" font-size="6.9" font-weight="normal" fill="#333" stroke="#333" stroke-width="0.18" textLength="30.38" lengthAdjust="spacingAndGlyphs">SOD1KO</text>
<text x="215.27" y="476.00" font-size="6.9" font-weight="normal" fill="#333" stroke="#333" stroke-width="0.18" textLength="10.10" lengthAdjust="spacingAndGlyphs"># 2</text>
<text x="252.97" y="470.90" font-size="6.9" font-weight="normal" fill="#333" stroke="#333" stroke-width="0.18" textLength="10.79" lengthAdjust="spacingAndGlyphs">WT</text>
<text x="268.68" y="467.20" font-size="6.9" font-weight="normal" fill="#333" stroke="#333" stroke-width="0.18" textLength="29.66" lengthAdjust="spacingAndGlyphs">SOD1KO</text>
<text x="276.47" y="476.00" font-size="6.9" font-weight="normal" fill="#333" stroke="#333" stroke-width="0.18" textLength="10.93" lengthAdjust="spacingAndGlyphs"># 2</text>
<line x1="184.90" y1="481.20" x2="235.60" y2="481.20" stroke="#222" stroke-width="1.2"/>
<text x="193.12" y="488.40" font-size="6.8" font-weight="bold" fill="#1a1a1a" stroke="#1a1a1a" stroke-width="0.18" textLength="33.13" lengthAdjust="spacingAndGlyphs">Normoxia</text>
<line x1="249.60" y1="481.20" x2="301.00" y2="481.20" stroke="#222" stroke-width="1.2"/>
<text x="260.81" y="488.40" font-size="6.8" font-weight="bold" fill="#1a1a1a" stroke="#1a1a1a" stroke-width="0.18" textLength="28.44" lengthAdjust="spacingAndGlyphs">Hypoxia</text>
<text x="364.37" y="318.00" font-size="13.6" font-weight="bold" fill="#1a1a1a" textLength="46.24" lengthAdjust="spacingAndGlyphs">LN-229</text>
<text x="355.58" y="329.40" font-size="6.5" font-weight="normal" fill="#1a1a1a" stroke="#1a1a1a" stroke-width="0.18" textLength="64.92" lengthAdjust="spacingAndGlyphs">2 mM glucose,  Ø FCS</text>
<line x1="329.30" y1="358.20" x2="329.30" y2="457.40" stroke="#1a1a1a" stroke-width="1.4"/>
<line x1="325.10" y1="363.50" x2="329.30" y2="363.50" stroke="#1a1a1a" stroke-width="1.26"/>
<text x="309.92" y="365.84" font-size="6.5" font-weight="bold" fill="#222" stroke="#222" stroke-width="0.18" textLength="14.35" lengthAdjust="spacingAndGlyphs">8000</text>
<line x1="325.10" y1="386.80" x2="329.30" y2="386.80" stroke="#1a1a1a" stroke-width="1.26"/>
<text x="309.88" y="389.14" font-size="6.5" font-weight="bold" fill="#222" stroke="#222" stroke-width="0.18" textLength="14.38" lengthAdjust="spacingAndGlyphs">6000</text>
<line x1="325.10" y1="410.30" x2="329.30" y2="410.30" stroke="#1a1a1a" stroke-width="1.26"/>
<text x="310.02" y="412.64" font-size="6.5" font-weight="bold" fill="#222" stroke="#222" stroke-width="0.18" textLength="14.24" lengthAdjust="spacingAndGlyphs">4000</text>
<line x1="325.10" y1="433.60" x2="329.30" y2="433.60" stroke="#1a1a1a" stroke-width="1.26"/>
<text x="309.90" y="435.94" font-size="6.5" font-weight="bold" fill="#222" stroke="#222" stroke-width="0.18" textLength="14.37" lengthAdjust="spacingAndGlyphs">2000</text>
<line x1="325.10" y1="456.70" x2="329.30" y2="456.70" stroke="#1a1a1a" stroke-width="1.26"/>
<text x="320.24" y="459.04" font-size="6.5" font-weight="bold" fill="#222" stroke="#222" stroke-width="0.18" textLength="4.06" lengthAdjust="spacingAndGlyphs">0</text>
<rect x="337.00" y="417.30" width="15.20" height="39.40" fill="#a0aebd" stroke="#2a2a2a" stroke-width="1.3"/>
<line x1="344.60" y1="417.30" x2="344.60" y2="416.20" stroke="#333" stroke-width="1.25"/>
<line x1="340.80" y1="416.20" x2="348.40" y2="416.20" stroke="#333" stroke-width="1.25"/>
<rect x="360.60" y="405.70" width="15.00" height="51.00" fill="#c9dde8" stroke="#2a2a2a" stroke-width="1.3"/>
<line x1="368.10" y1="405.70" x2="368.10" y2="401.70" stroke="#333" stroke-width="1.25"/>
<line x1="364.35" y1="401.70" x2="371.85" y2="401.70" stroke="#333" stroke-width="1.25"/>
<rect x="399.60" y="390.50" width="14.70" height="66.20" fill="#a0aebd" stroke="#2a2a2a" stroke-width="1.3"/>
<line x1="406.95" y1="390.50" x2="406.95" y2="388.80" stroke="#333" stroke-width="1.25"/>
<line x1="403.28" y1="388.80" x2="410.63" y2="388.80" stroke="#333" stroke-width="1.25"/>
<rect x="422.50" y="366.60" width="15.20" height="90.10" fill="#c9dde8" stroke="#2a2a2a" stroke-width="1.3"/>
<line x1="430.10" y1="366.60" x2="430.10" y2="361.50" stroke="#333" stroke-width="1.25"/>
<line x1="426.30" y1="361.50" x2="433.90" y2="361.50" stroke="#333" stroke-width="1.25"/>
<line x1="329.00" y1="456.70" x2="445.20" y2="456.70" stroke="#1a1a1a" stroke-width="1.6"/>
<path d="M344.30,408.00 V378.30 H368.10 V392.10" stroke="#333" stroke-width="1.3" fill="none"/>
<text x="356.40" y="377.62" font-size="8.6" font-weight="bold" fill="#111" text-anchor="middle">*</text>
<path d="M406.60,382.30 V340.70 H430.50 V359.00" stroke="#333" stroke-width="1.3" fill="none"/>
<text x="418.80" y="339.52" font-size="8.6" font-weight="bold" fill="#111" text-anchor="middle">*</text>
<text x="336.47" y="470.70" font-size="6.9" font-weight="normal" fill="#333" stroke="#333" stroke-width="0.18" textLength="11.91" lengthAdjust="spacingAndGlyphs">WT</text>
<text x="352.57" y="467.10" font-size="6.9" font-weight="normal" fill="#333" stroke="#333" stroke-width="0.18" textLength="29.87" lengthAdjust="spacingAndGlyphs">SOD1KO</text>
<text x="360.37" y="475.80" font-size="6.9" font-weight="normal" fill="#333" stroke="#333" stroke-width="0.18" textLength="10.36" lengthAdjust="spacingAndGlyphs"># 3</text>
<text x="397.27" y="470.70" font-size="6.9" font-weight="normal" fill="#333" stroke="#333" stroke-width="0.18" textLength="11.91" lengthAdjust="spacingAndGlyphs">WT</text>
<text x="413.27" y="467.10" font-size="6.9" font-weight="normal" fill="#333" stroke="#333" stroke-width="0.18" textLength="29.97" lengthAdjust="spacingAndGlyphs">SOD1KO</text>
<text x="420.97" y="475.80" font-size="6.9" font-weight="normal" fill="#333" stroke="#333" stroke-width="0.18" textLength="10.57" lengthAdjust="spacingAndGlyphs"># 3</text>
<line x1="329.50" y1="480.30" x2="379.80" y2="480.30" stroke="#222" stroke-width="1.2"/>
<text x="337.92" y="487.70" font-size="6.8" font-weight="bold" fill="#1a1a1a" stroke="#1a1a1a" stroke-width="0.18" textLength="33.13" lengthAdjust="spacingAndGlyphs">Normoxia</text>
<line x1="394.50" y1="480.30" x2="445.20" y2="480.30" stroke="#222" stroke-width="1.2"/>
<text x="405.42" y="487.70" font-size="6.8" font-weight="bold" fill="#1a1a1a" stroke="#1a1a1a" stroke-width="0.18" textLength="28.04" lengthAdjust="spacingAndGlyphs">Hypoxia</text>
<text x="467.78" y="313.50" font-size="22.82" fill="#111" textLength="18.66" lengthAdjust="spacingAndGlyphs">D</text>
<text x="554.48" y="317.60" font-size="13.6" font-weight="bold" fill="#1a1a1a" textLength="45.62" lengthAdjust="spacingAndGlyphs">LN-229</text>
<line x1="544.20" y1="338.90" x2="622.00" y2="338.90" stroke="#444" stroke-width="1.4"/>
<text x="583.00" y="335.82" font-size="8.6" font-weight="bold" fill="#111" text-anchor="middle">**</text>
<line x1="544.20" y1="351.60" x2="585.70" y2="351.60" stroke="#555" stroke-width="1.4"/>
<text x="564.10" y="349.27" font-size="6.2" fill="#2a2a2a" text-anchor="middle">ns</text>
<line x1="520.00" y1="353.40" x2="520.00" y2="458.05" stroke="#1a1a1a" stroke-width="1.5"/>
<line x1="516.40" y1="377.30" x2="520.00" y2="377.30" stroke="#1a1a1a" stroke-width="1.35"/>
<text x="506.12" y="379.50" font-size="6.1" font-weight="bold" fill="#222" stroke="#222" stroke-width="0.18" textLength="9.46" lengthAdjust="spacingAndGlyphs">1.0</text>
<line x1="516.40" y1="408.10" x2="520.00" y2="408.10" stroke="#1a1a1a" stroke-width="1.35"/>
<text x="506.29" y="410.30" font-size="6.1" font-weight="bold" fill="#222" stroke="#222" stroke-width="0.18" textLength="9.20" lengthAdjust="spacingAndGlyphs">0.5</text>
<line x1="516.40" y1="439.00" x2="520.00" y2="439.00" stroke="#1a1a1a" stroke-width="1.35"/>
<text x="506.29" y="441.20" font-size="6.1" font-weight="bold" fill="#222" stroke="#222" stroke-width="0.18" textLength="9.29" lengthAdjust="spacingAndGlyphs">0.0</text>
<line x1="517.20" y1="361.90" x2="520.00" y2="361.90" stroke="#1a1a1a" stroke-width="1.3"/>
<line x1="517.20" y1="392.70" x2="520.00" y2="392.70" stroke="#1a1a1a" stroke-width="1.3"/>
<line x1="517.20" y1="423.50" x2="520.00" y2="423.50" stroke="#1a1a1a" stroke-width="1.3"/>
<line x1="517.20" y1="454.50" x2="520.00" y2="454.50" stroke="#1a1a1a" stroke-width="1.3"/>
<line x1="520.00" y1="457.30" x2="641.70" y2="457.30" stroke="#1a1a1a" stroke-width="1.6"/>
<line x1="523.3" y1="408.1" x2="641.0" y2="408.1" stroke="#222" stroke-width="1.2" stroke-dasharray="1.2,2.1"/>
<path d="M544.30,357.10 C544.38,357.33 544.65,357.93 544.80,358.50 C544.95,359.07 544.32,359.82 545.20,360.50 C546.08,361.18 548.58,361.82 550.10,362.60 C551.62,363.38 553.40,364.23 554.30,365.20 C555.20,366.17 555.58,367.25 555.50,368.40 C555.42,369.55 553.68,370.70 553.80,372.10 C553.92,373.50 556.20,375.32 556.20,376.80 C556.20,378.28 554.30,379.60 553.80,381.00 C553.30,382.40 553.55,383.88 553.20,385.20 C552.85,386.52 552.48,387.77 551.70,388.90 C550.92,390.03 549.53,391.03 548.50,392.00 C547.47,392.97 546.12,393.95 545.50,394.70 C544.88,395.45 545.00,395.72 544.80,396.50 C544.60,397.28 544.47,399.40 544.30,399.40 C544.13,399.40 544.00,397.28 543.80,396.50 C543.60,395.72 543.72,395.45 543.10,394.70 C542.48,393.95 541.13,392.97 540.10,392.00 C539.07,391.03 537.68,390.03 536.90,388.90 C536.12,387.77 535.75,386.52 535.40,385.20 C535.05,383.88 535.30,382.40 534.80,381.00 C534.30,379.60 532.40,378.28 532.40,376.80 C532.40,375.32 534.68,373.50 534.80,372.10 C534.92,370.70 533.18,369.55 533.10,368.40 C533.02,367.25 533.40,366.17 534.30,365.20 C535.20,364.23 536.98,363.38 538.50,362.60 C540.02,361.82 542.52,361.18 543.40,360.50 C544.28,359.82 543.65,359.07 543.80,358.50 C543.95,357.93 544.22,357.33 544.30,357.10 Z" fill="#acb3c2" stroke="#111" stroke-width="1.2" stroke-linejoin="round"/>
<line x1="533.84" y1="368.70" x2="554.76" y2="368.70" stroke="#222" stroke-width="0.8" stroke-dasharray="1.2,1.2"/>
<line x1="533.40" y1="377.50" x2="555.20" y2="377.50" stroke="#222" stroke-width="0.9199999999999999" stroke-dasharray="2.6,1.4"/>
<line x1="536.00" y1="385.20" x2="552.60" y2="385.20" stroke="#222" stroke-width="0.8" stroke-dasharray="1.2,1.2"/>
<path d="M580.60,376.30 C581.30,376.50 582.78,377.07 584.80,377.50 C586.82,377.93 592.00,378.48 592.70,378.90 C593.40,379.32 589.97,379.57 589.00,380.00 C588.03,380.43 587.52,380.90 586.90,381.50 C586.28,382.10 586.10,382.90 585.30,383.60 C584.50,384.30 582.88,385.20 582.10,385.70 C581.32,386.20 581.10,386.60 580.60,386.60 C580.10,386.60 579.88,386.20 579.10,385.70 C578.32,385.20 576.70,384.30 575.90,383.60 C575.10,382.90 574.92,382.10 574.30,381.50 C573.68,380.90 573.17,380.43 572.20,380.00 C571.23,379.57 567.80,379.32 568.50,378.90 C569.20,378.48 574.38,377.93 576.40,377.50 C578.42,377.07 579.90,376.50 580.60,376.30 Z" fill="#472fa3" stroke="#111" stroke-width="1.2" stroke-linejoin="round"/>
<line x1="571.45" y1="379.60" x2="589.75" y2="379.60" stroke="#222" stroke-width="0.9199999999999999" stroke-dasharray="2.6,1.4"/>
<path d="M617.40,369.30 C617.47,369.75 617.67,370.80 617.80,372.00 C617.93,373.20 618.05,375.42 618.20,376.50 C618.35,377.58 618.32,377.53 618.70,378.50 C619.08,379.47 619.65,380.87 620.50,382.30 C621.35,383.73 622.68,385.50 623.80,387.10 C624.92,388.70 626.32,390.30 627.20,391.90 C628.08,393.50 628.73,395.50 629.10,396.70 C629.47,397.90 629.63,398.13 629.40,399.10 C629.17,400.07 628.55,401.30 627.70,402.50 C626.85,403.70 625.18,405.02 624.30,406.30 C623.42,407.58 622.80,408.75 622.40,410.20 C622.00,411.65 622.17,413.23 621.90,415.00 C621.63,416.77 620.88,418.88 620.80,420.80 C620.72,422.72 621.25,424.75 621.40,426.50 C621.55,428.25 621.90,429.68 621.70,431.30 C621.50,432.92 620.72,434.58 620.20,436.20 C619.68,437.82 618.97,439.70 618.60,441.00 C618.23,442.30 618.13,442.83 618.00,444.00 C617.87,445.17 617.90,446.58 617.80,448.00 C617.70,449.42 617.53,452.50 617.40,452.50 C617.27,452.50 617.10,449.42 617.00,448.00 C616.90,446.58 616.93,445.17 616.80,444.00 C616.67,442.83 616.57,442.30 616.20,441.00 C615.83,439.70 615.12,437.82 614.60,436.20 C614.08,434.58 613.30,432.92 613.10,431.30 C612.90,429.68 613.25,428.25 613.40,426.50 C613.55,424.75 614.08,422.72 614.00,420.80 C613.92,418.88 613.17,416.77 612.90,415.00 C612.63,413.23 612.80,411.65 612.40,410.20 C612.00,408.75 611.38,407.58 610.50,406.30 C609.62,405.02 607.95,403.70 607.10,402.50 C606.25,401.30 605.63,400.07 605.40,399.10 C605.17,398.13 605.33,397.90 605.70,396.70 C606.07,395.50 606.72,393.50 607.60,391.90 C608.48,390.30 609.88,388.70 611.00,387.10 C612.12,385.50 613.45,383.73 614.30,382.30 C615.15,380.87 615.72,379.47 616.10,378.50 C616.48,377.53 616.45,377.58 616.60,376.50 C616.75,375.42 616.87,373.20 617.00,372.00 C617.13,370.80 617.33,369.75 617.40,369.30 Z" fill="#c9dde8" stroke="#111" stroke-width="1.2" stroke-linejoin="round"/>
<line x1="606.74" y1="395.60" x2="628.06" y2="395.60" stroke="#222" stroke-width="0.8" stroke-dasharray="1.2,1.2"/>
<line x1="607.20" y1="401.50" x2="627.60" y2="401.50" stroke="#222" stroke-width="0.9199999999999999" stroke-dasharray="2.6,1.4"/>
<line x1="614.56" y1="420.60" x2="620.24" y2="420.60" stroke="#222" stroke-width="0.8" stroke-dasharray="1.2,1.2"/>
<text transform="translate(495.90,457.61) rotate(-90)" x="0" y="0" font-size="9.7" font-weight="bold" fill="#1a1a1a" stroke="#1a1a1a" stroke-width="0.2" textLength="104.27" lengthAdjust="spacingAndGlyphs">Relative cell densitiy</text>
<text x="531.67" y="467.00" font-size="6.9" font-weight="normal" fill="#333" stroke="#333" stroke-width="0.18" textLength="10.89" lengthAdjust="spacingAndGlyphs">WT</text>
<text x="557.77" y="467.00" font-size="6.9" font-weight="normal" fill="#333" stroke="#333" stroke-width="0.18" textLength="30.28" lengthAdjust="spacingAndGlyphs">SOD1KO</text>
<text x="565.47" y="475.60" font-size="6.9" font-weight="normal" fill="#333" stroke="#333" stroke-width="0.18" textLength="10.51" lengthAdjust="spacingAndGlyphs"># 2</text>
<text x="601.47" y="467.00" font-size="6.9" font-weight="normal" fill="#333" stroke="#333" stroke-width="0.18" textLength="30.28" lengthAdjust="spacingAndGlyphs">SOD1KO</text>
<text x="609.17" y="475.60" font-size="6.9" font-weight="normal" fill="#333" stroke="#333" stroke-width="0.18" textLength="9.74" lengthAdjust="spacingAndGlyphs"># 3</text>
<line x1="521.50" y1="481.00" x2="642.80" y2="481.00" stroke="#222" stroke-width="1.2"/>
<text x="565.52" y="491.00" font-size="6.8" font-weight="bold" fill="#1a1a1a" stroke="#1a1a1a" stroke-width="0.18" textLength="32.83" lengthAdjust="spacingAndGlyphs">Normoxia</text>
<text x="4.06" y="533.60" font-size="23.69" fill="#111" textLength="12.55" lengthAdjust="spacingAndGlyphs">E</text>
<text x="51.68" y="544.90" font-size="12.8" font-weight="bold" fill="#1a1a1a" textLength="46.04" lengthAdjust="spacingAndGlyphs">LN-229</text>
<line x1="30.80" y1="583.70" x2="30.80" y2="686.35" stroke="#1a1a1a" stroke-width="1.5"/>
<line x1="27.20" y1="595.50" x2="30.80" y2="595.50" stroke="#1a1a1a" stroke-width="1.35"/>
<text x="14.47" y="597.77" font-size="6.3" font-weight="bold" fill="#222" stroke="#222" stroke-width="0.18" textLength="11.52" lengthAdjust="spacingAndGlyphs">150</text>
<line x1="27.20" y1="625.50" x2="30.80" y2="625.50" stroke="#1a1a1a" stroke-width="1.35"/>
<text x="14.47" y="627.77" font-size="6.3" font-weight="bold" fill="#222" stroke="#222" stroke-width="0.18" textLength="11.52" lengthAdjust="spacingAndGlyphs">100</text>
<line x1="27.20" y1="655.60" x2="30.80" y2="655.60" stroke="#1a1a1a" stroke-width="1.35"/>
<text x="18.29" y="657.87" font-size="6.3" font-weight="bold" fill="#222" stroke="#222" stroke-width="0.18" textLength="7.70" lengthAdjust="spacingAndGlyphs">50</text>
<line x1="27.20" y1="685.60" x2="30.80" y2="685.60" stroke="#1a1a1a" stroke-width="1.35"/>
<text x="21.80" y="687.87" font-size="6.3" font-weight="bold" fill="#222" stroke="#222" stroke-width="0.18" textLength="4.21" lengthAdjust="spacingAndGlyphs">0</text>
<line x1="30.80" y1="685.60" x2="98.40" y2="685.60" stroke="#1a1a1a" stroke-width="1.6"/>
<line x1="50.40" y1="583.50" x2="79.70" y2="583.50" stroke="#222" stroke-width="1.3"/>
<text x="65.30" y="583.32" font-size="8.6" font-weight="bold" fill="#111" text-anchor="middle">*</text>
<path d="M50.20,590.30 C50.27,590.58 50.47,591.15 50.60,592.00 C50.73,592.85 50.47,594.58 51.00,595.40 C51.53,596.22 52.80,596.38 53.80,596.90 C54.80,597.42 56.12,597.72 57.00,598.50 C57.88,599.28 58.67,600.67 59.10,601.60 C59.53,602.53 60.12,603.25 59.60,604.10 C59.08,604.95 57.10,605.77 56.00,606.70 C54.90,607.63 53.55,608.95 53.00,609.70 C52.45,610.45 52.53,610.52 52.70,611.20 C52.87,611.88 53.53,612.77 54.00,613.80 C54.47,614.83 55.67,616.20 55.50,617.40 C55.33,618.60 53.72,619.80 53.00,621.00 C52.28,622.20 51.58,623.68 51.20,624.60 C50.82,625.52 50.87,625.57 50.70,626.50 C50.53,627.43 50.37,630.20 50.20,630.20 C50.03,630.20 49.87,627.43 49.70,626.50 C49.53,625.57 49.58,625.52 49.20,624.60 C48.82,623.68 48.12,622.20 47.40,621.00 C46.68,619.80 45.07,618.60 44.90,617.40 C44.73,616.20 45.93,614.83 46.40,613.80 C46.87,612.77 47.53,611.88 47.70,611.20 C47.87,610.52 47.95,610.45 47.40,609.70 C46.85,608.95 45.50,607.63 44.40,606.70 C43.30,605.77 41.32,604.95 40.80,604.10 C40.28,603.25 40.87,602.53 41.30,601.60 C41.73,600.67 42.52,599.28 43.40,598.50 C44.28,597.72 45.60,597.42 46.60,596.90 C47.60,596.38 48.87,596.22 49.40,595.40 C49.93,594.58 49.67,592.85 49.80,592.00 C49.93,591.15 50.13,590.58 50.20,590.30 Z" fill="#9b9c9e" stroke="#111" stroke-width="1.2" stroke-linejoin="round"/>
<line x1="41.74" y1="602.40" x2="58.66" y2="602.40" stroke="#222" stroke-width="0.8" stroke-dasharray="1.2,1.2"/>
<line x1="43.34" y1="605.50" x2="57.06" y2="605.50" stroke="#222" stroke-width="0.9199999999999999" stroke-dasharray="2.6,1.4"/>
<line x1="45.71" y1="617.70" x2="54.69" y2="617.70" stroke="#222" stroke-width="0.8" stroke-dasharray="1.2,1.2"/>
<path d="M79.60,610.80 C79.67,611.17 79.83,612.23 80.00,613.00 C80.17,613.77 80.13,614.80 80.60,615.40 C81.07,616.00 82.03,616.18 82.80,616.60 C83.57,617.02 84.37,617.17 85.20,617.90 C86.03,618.63 87.28,619.98 87.80,621.00 C88.32,622.02 88.38,622.98 88.30,624.00 C88.22,625.02 87.22,625.90 87.30,627.10 C87.38,628.30 88.72,629.83 88.80,631.20 C88.88,632.57 87.85,634.10 87.80,635.30 C87.75,636.50 88.77,637.38 88.50,638.40 C88.23,639.42 87.17,640.38 86.20,641.40 C85.23,642.42 83.63,643.57 82.70,644.50 C81.77,645.43 81.03,646.25 80.60,647.00 C80.17,647.75 80.27,648.23 80.10,649.00 C79.93,649.77 79.77,651.60 79.60,651.60 C79.43,651.60 79.27,649.77 79.10,649.00 C78.93,648.23 79.03,647.75 78.60,647.00 C78.17,646.25 77.43,645.43 76.50,644.50 C75.57,643.57 73.97,642.42 73.00,641.40 C72.03,640.38 70.97,639.42 70.70,638.40 C70.43,637.38 71.45,636.50 71.40,635.30 C71.35,634.10 70.32,632.57 70.40,631.20 C70.48,629.83 71.82,628.30 71.90,627.10 C71.98,625.90 70.98,625.02 70.90,624.00 C70.82,622.98 70.88,622.02 71.40,621.00 C71.92,619.98 73.17,618.63 74.00,617.90 C74.83,617.17 75.63,617.02 76.40,616.60 C77.17,616.18 78.13,616.00 78.60,615.40 C79.07,614.80 79.03,613.77 79.20,613.00 C79.37,612.23 79.53,611.17 79.60,610.80 Z" fill="#472fa3" stroke="#111" stroke-width="1.2" stroke-linejoin="round"/>
<line x1="71.63" y1="623.20" x2="87.57" y2="623.20" stroke="#222" stroke-width="0.8" stroke-dasharray="1.2,1.2"/>
<line x1="71.05" y1="631.40" x2="88.15" y2="631.40" stroke="#222" stroke-width="0.9199999999999999" stroke-dasharray="2.6,1.4"/>
<line x1="72.22" y1="639.60" x2="86.98" y2="639.60" stroke="#222" stroke-width="0.8" stroke-dasharray="1.2,1.2"/>
<text transform="translate(9.50,684.71) rotate(-90)" x="0" y="0" font-size="11.0" font-weight="bold" fill="#1a1a1a" stroke="#1a1a1a" stroke-width="0.2" textLength="99.55" lengthAdjust="spacingAndGlyphs">Number of colonies</text>
<text x="43.47" y="695.20" font-size="6.9" font-weight="normal" fill="#333" stroke="#333" stroke-width="0.18" textLength="11.10" lengthAdjust="spacingAndGlyphs">WT</text>
<text x="64.46" y="695.20" font-size="6.9" font-weight="normal" fill="#333" stroke="#333" stroke-width="0.18" textLength="31.10" lengthAdjust="spacingAndGlyphs">SOD1KO</text>
<text x="71.96" y="703.20" font-size="6.9" font-weight="normal" fill="#333" stroke="#333" stroke-width="0.18" textLength="11.66" lengthAdjust="spacingAndGlyphs"># 2</text>
<text x="122.07" y="568.70" font-size="6.9" font-weight="normal" fill="#333" stroke="#333" stroke-width="0.18" textLength="11.20" lengthAdjust="spacingAndGlyphs">WT</text>
<radialGradient id="pl1" cx="0.5" cy="0.5" r="0.5"><stop offset="0" stop-color="#ccd1dd"/><stop offset="0.8" stop-color="#ccd1dd"/><stop offset="1" stop-color="#dadee6"/></radialGradient>
<rect x="106.30" y="574.70" width="41.50" height="41.80" fill="#b9bfca"/>
<circle cx="127.05" cy="595.60" r="19.15" fill="url(#pl1)" stroke="#dadee6" stroke-width="1.0"/>
<circle cx="137.59" cy="607.46" r="0.44" fill="#6b76b2" opacity="0.34"/>
<circle cx="115.50" cy="595.93" r="0.41" fill="#6b76b2" opacity="0.53"/>
<circle cx="129.46" cy="597.21" r="0.46" fill="#6b76b2" opacity="0.40"/>
<circle cx="127.11" cy="594.81" r="0.36" fill="#6b76b2" opacity="0.50"/>
<circle cx="129.28" cy="612.21" r="0.48" fill="#6b76b2" opacity="0.26"/>
<circle cx="139.57" cy="597.62" r="0.48" fill="#6b76b2" opacity="0.38"/>
<circle cx="129.38" cy="606.55" r="0.26" fill="#6b76b2" opacity="0.33"/>
<circle cx="115.83" cy="600.22" r="0.31" fill="#6b76b2" opacity="0.33"/>
<circle cx="129.33" cy="607.06" r="0.32" fill="#6b76b2" opacity="0.26"/>
<circle cx="133.77" cy="584.64" r="0.41" fill="#6b76b2" opacity="0.32"/>
<circle cx="143.01" cy="594.85" r="0.28" fill="#6b76b2" opacity="0.37"/>
<circle cx="124.46" cy="581.30" r="0.48" fill="#6b76b2" opacity="0.40"/>
<circle cx="133.85" cy="583.24" r="0.33" fill="#6b76b2" opacity="0.46"/>
<circle cx="138.77" cy="584.93" r="0.38" fill="#6b76b2" opacity="0.46"/>
<circle cx="135.34" cy="597.43" r="0.45" fill="#6b76b2" opacity="0.40"/>
<circle cx="132.99" cy="606.90" r="0.43" fill="#6b76b2" opacity="0.49"/>
<circle cx="118.99" cy="603.69" r="0.38" fill="#6b76b2" opacity="0.52"/>
<circle cx="116.34" cy="594.18" r="0.37" fill="#6b76b2" opacity="0.26"/>
<circle cx="140.97" cy="599.50" r="0.50" fill="#6b76b2" opacity="0.46"/>
<circle cx="121.47" cy="600.01" r="0.38" fill="#6b76b2" opacity="0.59"/>
<circle cx="128.68" cy="583.04" r="0.47" fill="#6b76b2" opacity="0.33"/>
<circle cx="110.29" cy="594.15" r="0.39" fill="#6b76b2" opacity="0.41"/>
<circle cx="125.51" cy="608.27" r="0.49" fill="#6b76b2" opacity="0.25"/>
<circle cx="130.32" cy="580.34" r="0.47" fill="#6b76b2" opacity="0.51"/>
<circle cx="131.56" cy="584.03" r="0.39" fill="#6b76b2" opacity="0.40"/>
<circle cx="142.14" cy="601.15" r="0.39" fill="#6b76b2" opacity="0.32"/>
<circle cx="115.05" cy="595.25" r="0.34" fill="#6b76b2" opacity="0.37"/>
<circle cx="113.84" cy="592.34" r="0.40" fill="#6b76b2" opacity="0.41"/>
<circle cx="135.18" cy="597.04" r="0.29" fill="#6b76b2" opacity="0.45"/>
<circle cx="136.94" cy="583.79" r="0.45" fill="#6b76b2" opacity="0.54"/>
<circle cx="126.52" cy="611.40" r="0.42" fill="#6b76b2" opacity="0.28"/>
<circle cx="129.12" cy="595.82" r="0.44" fill="#6b76b2" opacity="0.34"/>
<circle cx="137.57" cy="604.25" r="0.34" fill="#6b76b2" opacity="0.27"/>
<circle cx="133.78" cy="606.15" r="0.29" fill="#6b76b2" opacity="0.35"/>
<circle cx="124.27" cy="584.32" r="0.33" fill="#6b76b2" opacity="0.42"/>
<circle cx="137.65" cy="597.19" r="0.36" fill="#6b76b2" opacity="0.32"/>
<circle cx="139.73" cy="605.92" r="0.38" fill="#6b76b2" opacity="0.32"/>
<circle cx="114.78" cy="586.00" r="0.26" fill="#6b76b2" opacity="0.26"/>
<circle cx="135.90" cy="607.23" r="0.29" fill="#6b76b2" opacity="0.50"/>
<circle cx="121.50" cy="584.15" r="0.31" fill="#6b76b2" opacity="0.59"/>
<circle cx="130.71" cy="583.77" r="0.31" fill="#6b76b2" opacity="0.48"/>
<circle cx="116.72" cy="603.62" r="0.33" fill="#6b76b2" opacity="0.47"/>
<circle cx="135.83" cy="599.00" r="0.49" fill="#6b76b2" opacity="0.56"/>
<circle cx="121.51" cy="610.58" r="0.33" fill="#6b76b2" opacity="0.58"/>
<circle cx="126.62" cy="584.49" r="0.31" fill="#6b76b2" opacity="0.25"/>
<circle cx="129.48" cy="593.28" r="0.45" fill="#6b76b2" opacity="0.59"/>
<circle cx="120.60" cy="592.55" r="0.47" fill="#6b76b2" opacity="0.59"/>
<circle cx="123.55" cy="583.82" r="0.34" fill="#6b76b2" opacity="0.37"/>
<circle cx="130.93" cy="609.21" r="0.36" fill="#6b76b2" opacity="0.32"/>
<circle cx="138.19" cy="604.18" r="0.32" fill="#6b76b2" opacity="0.42"/>
<circle cx="119.71" cy="609.92" r="0.47" fill="#6b76b2" opacity="0.26"/>
<circle cx="130.05" cy="605.00" r="0.50" fill="#6b76b2" opacity="0.52"/>
<circle cx="122.83" cy="602.34" r="0.42" fill="#6b76b2" opacity="0.54"/>
<circle cx="136.25" cy="591.42" r="0.47" fill="#6b76b2" opacity="0.49"/>
<circle cx="110.02" cy="597.27" r="0.31" fill="#6b76b2" opacity="0.50"/>
<circle cx="133.17" cy="599.20" r="0.48" fill="#6b76b2" opacity="0.32"/>
<circle cx="127.81" cy="582.27" r="0.46" fill="#6b76b2" opacity="0.38"/>
<circle cx="122.05" cy="603.44" r="0.47" fill="#6b76b2" opacity="0.46"/>
<circle cx="142.62" cy="591.00" r="0.28" fill="#6b76b2" opacity="0.44"/>
<circle cx="129.75" cy="597.68" r="0.27" fill="#6b76b2" opacity="0.55"/>
<circle cx="130.77" cy="580.36" r="0.34" fill="#6b76b2" opacity="0.47"/>
<circle cx="129.16" cy="585.21" r="0.39" fill="#6b76b2" opacity="0.33"/>
<circle cx="134.80" cy="599.97" r="0.47" fill="#6b76b2" opacity="0.45"/>
<circle cx="137.44" cy="590.31" r="0.32" fill="#6b76b2" opacity="0.53"/>
<circle cx="127.95" cy="593.91" r="0.42" fill="#6b76b2" opacity="0.28"/>
<circle cx="139.21" cy="606.33" r="0.26" fill="#6b76b2" opacity="0.33"/>
<circle cx="138.20" cy="594.77" r="0.28" fill="#6b76b2" opacity="0.31"/>
<circle cx="127.85" cy="610.44" r="0.28" fill="#6b76b2" opacity="0.57"/>
<circle cx="114.80" cy="607.36" r="0.48" fill="#6b76b2" opacity="0.35"/>
<circle cx="126.80" cy="607.50" r="0.28" fill="#6b76b2" opacity="0.48"/>
<circle cx="128.76" cy="596.04" r="0.50" fill="#6b76b2" opacity="0.35"/>
<circle cx="117.55" cy="589.01" r="0.33" fill="#6b76b2" opacity="0.27"/>
<circle cx="141.57" cy="586.81" r="0.49" fill="#6b76b2" opacity="0.29"/>
<circle cx="129.99" cy="608.82" r="0.49" fill="#6b76b2" opacity="0.44"/>
<circle cx="121.74" cy="582.62" r="0.31" fill="#6b76b2" opacity="0.44"/>
<circle cx="124.04" cy="603.61" r="0.27" fill="#6b76b2" opacity="0.35"/>
<circle cx="138.52" cy="594.40" r="0.41" fill="#6b76b2" opacity="0.48"/>
<circle cx="137.08" cy="591.68" r="0.33" fill="#6b76b2" opacity="0.36"/>
<circle cx="120.59" cy="610.09" r="0.47" fill="#6b76b2" opacity="0.36"/>
<circle cx="120.62" cy="606.57" r="0.39" fill="#6b76b2" opacity="0.46"/>
<circle cx="127.13" cy="598.06" r="0.31" fill="#6b76b2" opacity="0.28"/>
<circle cx="122.70" cy="594.15" r="0.27" fill="#6b76b2" opacity="0.47"/>
<circle cx="123.16" cy="610.44" r="0.37" fill="#6b76b2" opacity="0.55"/>
<circle cx="133.96" cy="605.66" r="0.45" fill="#6b76b2" opacity="0.28"/>
<circle cx="133.86" cy="593.35" r="0.44" fill="#6b76b2" opacity="0.59"/>
<circle cx="131.28" cy="586.82" r="0.28" fill="#6b76b2" opacity="0.43"/>
<circle cx="135.21" cy="591.07" r="0.47" fill="#6b76b2" opacity="0.30"/>
<circle cx="129.65" cy="593.96" r="0.33" fill="#6b76b2" opacity="0.57"/>
<circle cx="132.50" cy="580.11" r="0.46" fill="#6b76b2" opacity="0.51"/>
<circle cx="124.35" cy="588.84" r="0.36" fill="#6b76b2" opacity="0.31"/>
<circle cx="123.96" cy="581.86" r="0.31" fill="#6b76b2" opacity="0.27"/>
<circle cx="142.14" cy="592.06" r="0.39" fill="#6b76b2" opacity="0.44"/>
<circle cx="133.95" cy="586.27" r="0.35" fill="#6b76b2" opacity="0.37"/>
<circle cx="126.92" cy="598.29" r="0.41" fill="#6b76b2" opacity="0.40"/>
<circle cx="123.16" cy="593.75" r="0.34" fill="#6b76b2" opacity="0.30"/>
<circle cx="133.25" cy="601.81" r="0.46" fill="#6b76b2" opacity="0.39"/>
<circle cx="116.08" cy="603.45" r="0.31" fill="#6b76b2" opacity="0.25"/>
<circle cx="115.05" cy="593.41" r="0.41" fill="#6b76b2" opacity="0.40"/>
<circle cx="121.32" cy="582.02" r="0.31" fill="#6b76b2" opacity="0.42"/>
<circle cx="118.95" cy="596.69" r="0.35" fill="#6b76b2" opacity="0.45"/>
<circle cx="140.82" cy="586.48" r="0.32" fill="#6b76b2" opacity="0.48"/>
<circle cx="131.45" cy="596.97" r="0.38" fill="#6b76b2" opacity="0.56"/>
<circle cx="135.18" cy="608.31" r="0.47" fill="#6b76b2" opacity="0.36"/>
<circle cx="121.44" cy="580.74" r="0.34" fill="#6b76b2" opacity="0.50"/>
<circle cx="125.92" cy="582.36" r="0.46" fill="#6b76b2" opacity="0.56"/>
<circle cx="139.67" cy="592.36" r="0.29" fill="#6b76b2" opacity="0.34"/>
<circle cx="129.68" cy="608.34" r="0.44" fill="#6b76b2" opacity="0.27"/>
<circle cx="120.97" cy="582.33" r="0.34" fill="#6b76b2" opacity="0.43"/>
<circle cx="134.56" cy="608.26" r="0.26" fill="#6b76b2" opacity="0.59"/>
<circle cx="131.91" cy="582.83" r="0.32" fill="#6b76b2" opacity="0.57"/>
<circle cx="133.27" cy="593.98" r="0.44" fill="#6b76b2" opacity="0.54"/>
<circle cx="119.30" cy="583.44" r="0.36" fill="#6b76b2" opacity="0.57"/>
<circle cx="137.53" cy="593.68" r="0.45" fill="#6b76b2" opacity="0.40"/>
<circle cx="132.07" cy="604.06" r="0.28" fill="#6b76b2" opacity="0.57"/>
<circle cx="132.81" cy="594.10" r="0.40" fill="#6b76b2" opacity="0.39"/>
<circle cx="133.96" cy="601.93" r="0.31" fill="#6b76b2" opacity="0.51"/>
<circle cx="134.56" cy="595.79" r="0.36" fill="#6b76b2" opacity="0.26"/>
<circle cx="117.72" cy="585.97" r="0.46" fill="#6b76b2" opacity="0.32"/>
<circle cx="124.30" cy="607.99" r="0.32" fill="#6b76b2" opacity="0.46"/>
<circle cx="126.97" cy="609.85" r="0.45" fill="#6b76b2" opacity="0.53"/>
<circle cx="139.60" cy="593.50" r="0.37" fill="#6b76b2" opacity="0.55"/>
<circle cx="128.60" cy="582.67" r="0.35" fill="#6b76b2" opacity="0.35"/>
<circle cx="139.10" cy="605.33" r="0.28" fill="#6b76b2" opacity="0.51"/>
<circle cx="110.80" cy="590.85" r="0.44" fill="#6b76b2" opacity="0.59"/>
<circle cx="135.02" cy="604.83" r="0.39" fill="#6b76b2" opacity="0.36"/>
<circle cx="116.76" cy="595.40" r="0.38" fill="#6b76b2" opacity="0.25"/>
<circle cx="116.25" cy="599.70" r="0.33" fill="#6b76b2" opacity="0.39"/>
<circle cx="129.99" cy="581.66" r="0.37" fill="#6b76b2" opacity="0.48"/>
<circle cx="121.46" cy="601.01" r="0.25" fill="#6b76b2" opacity="0.35"/>
<circle cx="113.85" cy="586.24" r="0.46" fill="#6b76b2" opacity="0.43"/>
<circle cx="138.72" cy="594.64" r="0.46" fill="#6b76b2" opacity="0.39"/>
<circle cx="126.47" cy="578.48" r="0.33" fill="#6b76b2" opacity="0.31"/>
<circle cx="117.90" cy="587.00" r="0.34" fill="#6b76b2" opacity="0.25"/>
<circle cx="118.42" cy="602.82" r="0.35" fill="#6b76b2" opacity="0.55"/>
<circle cx="114.31" cy="588.13" r="0.47" fill="#6b76b2" opacity="0.51"/>
<circle cx="112.18" cy="596.28" r="0.41" fill="#6b76b2" opacity="0.48"/>
<circle cx="119.51" cy="587.60" r="0.41" fill="#6b76b2" opacity="0.47"/>
<circle cx="141.12" cy="589.73" r="0.46" fill="#6b76b2" opacity="0.52"/>
<circle cx="132.40" cy="583.30" r="0.34" fill="#6b76b2" opacity="0.34"/>
<circle cx="122.85" cy="580.05" r="0.39" fill="#6b76b2" opacity="0.30"/>
<circle cx="133.02" cy="585.20" r="0.37" fill="#6b76b2" opacity="0.27"/>
<circle cx="112.21" cy="594.64" r="0.36" fill="#6b76b2" opacity="0.37"/>
<circle cx="125.71" cy="593.58" r="0.38" fill="#6b76b2" opacity="0.58"/>
<circle cx="123.05" cy="585.43" r="0.42" fill="#6b76b2" opacity="0.46"/>
<circle cx="129.06" cy="603.19" r="0.47" fill="#6b76b2" opacity="0.34"/>
<circle cx="141.05" cy="602.72" r="0.38" fill="#6b76b2" opacity="0.38"/>
<circle cx="112.30" cy="594.53" r="0.29" fill="#6b76b2" opacity="0.48"/>
<circle cx="123.50" cy="580.45" r="0.32" fill="#6b76b2" opacity="0.46"/>
<circle cx="128.50" cy="608.43" r="0.29" fill="#6b76b2" opacity="0.53"/>
<circle cx="133.67" cy="588.25" r="0.31" fill="#6b76b2" opacity="0.59"/>
<circle cx="122.79" cy="580.35" r="0.26" fill="#6b76b2" opacity="0.56"/>
<circle cx="120.08" cy="588.85" r="0.36" fill="#6b76b2" opacity="0.52"/>
<circle cx="128.71" cy="588.27" r="0.41" fill="#6b76b2" opacity="0.31"/>
<circle cx="138.36" cy="593.66" r="0.48" fill="#6b76b2" opacity="0.50"/>
<circle cx="120.12" cy="590.14" r="0.38" fill="#6b76b2" opacity="0.30"/>
<circle cx="136.48" cy="606.72" r="0.34" fill="#6b76b2" opacity="0.51"/>
<circle cx="127.92" cy="610.18" r="0.43" fill="#6b76b2" opacity="0.36"/>
<circle cx="135.57" cy="602.33" r="0.37" fill="#6b76b2" opacity="0.28"/>
<circle cx="128.62" cy="599.34" r="0.40" fill="#6b76b2" opacity="0.56"/>
<circle cx="127.72" cy="598.74" r="0.43" fill="#6b76b2" opacity="0.54"/>
<rect x="106.30" y="574.70" width="41.50" height="41.80" fill="none" stroke="#1a1a1a" stroke-width="1.3"/>
<text x="115.38" y="631.90" font-size="6.9" font-weight="normal" fill="#333" stroke="#333" stroke-width="0.18" textLength="29.77" lengthAdjust="spacingAndGlyphs">SOD1KO</text>
<text x="123.07" y="639.80" font-size="6.9" font-weight="normal" fill="#333" stroke="#333" stroke-width="0.18" textLength="10.41" lengthAdjust="spacingAndGlyphs"># 2</text>
<radialGradient id="pl2" cx="0.5" cy="0.5" r="0.5"><stop offset="0" stop-color="#c1c8dc"/><stop offset="0.8" stop-color="#c1c8dc"/><stop offset="1" stop-color="#dadee6"/></radialGradient>
<rect x="106.70" y="645.00" width="44.00" height="41.60" fill="#b0b8c8"/>
<circle cx="128.70" cy="665.80" r="19.20" fill="url(#pl2)" stroke="#dadee6" stroke-width="1.0"/>
<circle cx="144.88" cy="661.21" r="0.26" fill="#6b76b2" opacity="0.28"/>
<circle cx="136.28" cy="653.06" r="0.42" fill="#6b76b2" opacity="0.36"/>
<circle cx="118.11" cy="657.49" r="0.40" fill="#6b76b2" opacity="0.31"/>
<circle cx="118.87" cy="670.37" r="0.43" fill="#6b76b2" opacity="0.60"/>
<circle cx="140.81" cy="661.81" r="0.36" fill="#6b76b2" opacity="0.34"/>
<circle cx="131.49" cy="666.44" r="0.37" fill="#6b76b2" opacity="0.36"/>
<circle cx="116.80" cy="676.97" r="0.38" fill="#6b76b2" opacity="0.45"/>
<circle cx="128.93" cy="668.46" r="0.33" fill="#6b76b2" opacity="0.30"/>
<circle cx="111.47" cy="664.69" r="0.42" fill="#6b76b2" opacity="0.31"/>
<circle cx="140.80" cy="656.24" r="0.43" fill="#6b76b2" opacity="0.57"/>
<circle cx="129.94" cy="650.49" r="0.34" fill="#6b76b2" opacity="0.59"/>
<circle cx="135.44" cy="664.15" r="0.44" fill="#6b76b2" opacity="0.50"/>
<circle cx="116.48" cy="668.82" r="0.37" fill="#6b76b2" opacity="0.57"/>
<circle cx="112.94" cy="665.72" r="0.34" fill="#6b76b2" opacity="0.56"/>
<circle cx="138.18" cy="658.88" r="0.39" fill="#6b76b2" opacity="0.57"/>
<circle cx="126.72" cy="653.91" r="0.31" fill="#6b76b2" opacity="0.36"/>
<circle cx="126.51" cy="659.11" r="0.48" fill="#6b76b2" opacity="0.34"/>
<circle cx="136.86" cy="660.72" r="0.49" fill="#6b76b2" opacity="0.50"/>
<circle cx="116.27" cy="665.47" r="0.41" fill="#6b76b2" opacity="0.46"/>
<circle cx="125.72" cy="673.09" r="0.38" fill="#6b76b2" opacity="0.58"/>
<circle cx="125.31" cy="662.48" r="0.46" fill="#6b76b2" opacity="0.50"/>
<circle cx="135.02" cy="661.65" r="0.44" fill="#6b76b2" opacity="0.27"/>
<circle cx="123.53" cy="658.40" r="0.31" fill="#6b76b2" opacity="0.56"/>
<circle cx="138.51" cy="673.53" r="0.46" fill="#6b76b2" opacity="0.34"/>
<circle cx="132.69" cy="681.52" r="0.36" fill="#6b76b2" opacity="0.50"/>
<circle cx="138.89" cy="667.87" r="0.29" fill="#6b76b2" opacity="0.49"/>
<circle cx="143.34" cy="674.20" r="0.26" fill="#6b76b2" opacity="0.51"/>
<circle cx="137.36" cy="666.96" r="0.45" fill="#6b76b2" opacity="0.30"/>
<circle cx="134.51" cy="678.94" r="0.35" fill="#6b76b2" opacity="0.27"/>
<circle cx="135.41" cy="665.38" r="0.26" fill="#6b76b2" opacity="0.37"/>
<circle cx="117.54" cy="655.94" r="0.28" fill="#6b76b2" opacity="0.37"/>
<circle cx="140.06" cy="668.03" r="0.44" fill="#6b76b2" opacity="0.51"/>
<circle cx="140.96" cy="657.12" r="0.47" fill="#6b76b2" opacity="0.50"/>
<circle cx="120.61" cy="667.20" r="0.42" fill="#6b76b2" opacity="0.36"/>
<circle cx="137.97" cy="672.72" r="0.47" fill="#6b76b2" opacity="0.29"/>
<circle cx="119.37" cy="660.29" r="0.38" fill="#6b76b2" opacity="0.30"/>
<circle cx="137.22" cy="663.60" r="0.40" fill="#6b76b2" opacity="0.40"/>
<circle cx="141.52" cy="667.26" r="0.29" fill="#6b76b2" opacity="0.27"/>
<circle cx="135.48" cy="667.25" r="0.27" fill="#6b76b2" opacity="0.47"/>
<circle cx="111.59" cy="664.91" r="0.48" fill="#6b76b2" opacity="0.60"/>
<circle cx="129.97" cy="677.25" r="0.31" fill="#6b76b2" opacity="0.46"/>
<circle cx="117.71" cy="654.93" r="0.43" fill="#6b76b2" opacity="0.34"/>
<circle cx="117.60" cy="671.63" r="0.25" fill="#6b76b2" opacity="0.26"/>
<circle cx="123.86" cy="668.93" r="0.43" fill="#6b76b2" opacity="0.33"/>
<circle cx="134.67" cy="670.12" r="0.31" fill="#6b76b2" opacity="0.33"/>
<circle cx="117.02" cy="664.27" r="0.33" fill="#6b76b2" opacity="0.47"/>
<circle cx="132.55" cy="681.80" r="0.49" fill="#6b76b2" opacity="0.51"/>
<circle cx="117.40" cy="670.80" r="0.40" fill="#6b76b2" opacity="0.27"/>
<circle cx="117.80" cy="671.97" r="0.30" fill="#6b76b2" opacity="0.28"/>
<circle cx="132.10" cy="655.91" r="0.38" fill="#6b76b2" opacity="0.57"/>
<circle cx="121.55" cy="659.85" r="0.50" fill="#6b76b2" opacity="0.38"/>
<circle cx="142.90" cy="667.51" r="0.28" fill="#6b76b2" opacity="0.36"/>
<circle cx="136.34" cy="653.86" r="0.25" fill="#6b76b2" opacity="0.41"/>
<circle cx="118.50" cy="672.21" r="0.30" fill="#6b76b2" opacity="0.46"/>
<circle cx="136.94" cy="669.92" r="0.34" fill="#6b76b2" opacity="0.58"/>
<circle cx="142.01" cy="672.75" r="0.30" fill="#6b76b2" opacity="0.45"/>
<circle cx="119.56" cy="673.20" r="0.44" fill="#6b76b2" opacity="0.39"/>
<circle cx="133.05" cy="669.98" r="0.27" fill="#6b76b2" opacity="0.55"/>
<circle cx="117.99" cy="652.69" r="0.42" fill="#6b76b2" opacity="0.26"/>
<circle cx="120.47" cy="652.98" r="0.43" fill="#6b76b2" opacity="0.42"/>
<circle cx="121.39" cy="674.91" r="0.45" fill="#6b76b2" opacity="0.34"/>
<circle cx="116.92" cy="663.84" r="0.49" fill="#6b76b2" opacity="0.53"/>
<circle cx="143.08" cy="659.26" r="0.32" fill="#6b76b2" opacity="0.33"/>
<circle cx="119.92" cy="666.42" r="0.36" fill="#6b76b2" opacity="0.49"/>
<circle cx="140.23" cy="659.32" r="0.45" fill="#6b76b2" opacity="0.28"/>
<circle cx="118.03" cy="679.37" r="0.29" fill="#6b76b2" opacity="0.40"/>
<circle cx="133.33" cy="667.87" r="0.47" fill="#6b76b2" opacity="0.60"/>
<circle cx="125.00" cy="660.83" r="0.32" fill="#6b76b2" opacity="0.33"/>
<circle cx="121.89" cy="653.27" r="0.36" fill="#6b76b2" opacity="0.43"/>
<circle cx="138.39" cy="674.03" r="0.49" fill="#6b76b2" opacity="0.51"/>
<circle cx="138.92" cy="672.85" r="0.43" fill="#6b76b2" opacity="0.34"/>
<circle cx="137.96" cy="658.60" r="0.43" fill="#6b76b2" opacity="0.39"/>
<circle cx="143.98" cy="665.33" r="0.39" fill="#6b76b2" opacity="0.30"/>
<circle cx="125.94" cy="666.87" r="0.40" fill="#6b76b2" opacity="0.56"/>
<circle cx="133.93" cy="676.98" r="0.37" fill="#6b76b2" opacity="0.39"/>
<circle cx="124.59" cy="649.59" r="0.43" fill="#6b76b2" opacity="0.42"/>
<circle cx="138.35" cy="663.45" r="0.44" fill="#6b76b2" opacity="0.48"/>
<circle cx="129.86" cy="649.89" r="0.31" fill="#6b76b2" opacity="0.47"/>
<circle cx="117.14" cy="673.90" r="0.49" fill="#6b76b2" opacity="0.47"/>
<circle cx="140.45" cy="666.66" r="0.43" fill="#6b76b2" opacity="0.56"/>
<circle cx="119.53" cy="653.17" r="0.25" fill="#6b76b2" opacity="0.58"/>
<circle cx="126.97" cy="652.46" r="0.48" fill="#6b76b2" opacity="0.56"/>
<circle cx="141.30" cy="675.01" r="0.44" fill="#6b76b2" opacity="0.32"/>
<circle cx="128.22" cy="652.58" r="0.30" fill="#6b76b2" opacity="0.53"/>
<circle cx="137.46" cy="676.10" r="0.36" fill="#6b76b2" opacity="0.34"/>
<circle cx="117.89" cy="661.04" r="0.30" fill="#6b76b2" opacity="0.59"/>
<circle cx="129.55" cy="666.22" r="0.37" fill="#6b76b2" opacity="0.54"/>
<circle cx="120.53" cy="653.21" r="0.37" fill="#6b76b2" opacity="0.49"/>
<circle cx="124.16" cy="673.49" r="0.38" fill="#6b76b2" opacity="0.26"/>
<circle cx="141.86" cy="673.01" r="0.29" fill="#6b76b2" opacity="0.51"/>
<circle cx="131.05" cy="655.07" r="0.42" fill="#6b76b2" opacity="0.53"/>
<circle cx="132.87" cy="661.01" r="0.29" fill="#6b76b2" opacity="0.38"/>
<circle cx="119.55" cy="667.87" r="0.25" fill="#6b76b2" opacity="0.45"/>
<circle cx="138.93" cy="663.64" r="0.38" fill="#6b76b2" opacity="0.38"/>
<circle cx="113.61" cy="671.47" r="0.33" fill="#6b76b2" opacity="0.48"/>
<circle cx="116.08" cy="667.09" r="0.48" fill="#6b76b2" opacity="0.28"/>
<circle cx="132.99" cy="657.29" r="0.41" fill="#6b76b2" opacity="0.53"/>
<circle cx="122.52" cy="656.90" r="0.46" fill="#6b76b2" opacity="0.28"/>
<circle cx="121.47" cy="657.77" r="0.38" fill="#6b76b2" opacity="0.55"/>
<circle cx="132.76" cy="652.71" r="0.33" fill="#6b76b2" opacity="0.33"/>
<circle cx="120.67" cy="668.00" r="0.32" fill="#6b76b2" opacity="0.59"/>
<circle cx="140.62" cy="675.91" r="0.34" fill="#6b76b2" opacity="0.38"/>
<circle cx="126.70" cy="670.17" r="0.36" fill="#6b76b2" opacity="0.31"/>
<circle cx="119.98" cy="669.13" r="0.47" fill="#6b76b2" opacity="0.57"/>
<circle cx="115.79" cy="670.73" r="0.48" fill="#6b76b2" opacity="0.36"/>
<circle cx="135.53" cy="670.73" r="0.30" fill="#6b76b2" opacity="0.49"/>
<circle cx="121.46" cy="673.15" r="0.45" fill="#6b76b2" opacity="0.33"/>
<circle cx="133.64" cy="652.97" r="0.35" fill="#6b76b2" opacity="0.54"/>
<circle cx="119.83" cy="679.35" r="0.48" fill="#6b76b2" opacity="0.43"/>
<circle cx="122.50" cy="650.15" r="0.44" fill="#6b76b2" opacity="0.51"/>
<circle cx="140.09" cy="653.56" r="0.44" fill="#6b76b2" opacity="0.59"/>
<circle cx="125.18" cy="678.97" r="0.42" fill="#6b76b2" opacity="0.38"/>
<circle cx="122.99" cy="670.22" r="0.49" fill="#6b76b2" opacity="0.37"/>
<circle cx="112.54" cy="668.19" r="0.30" fill="#6b76b2" opacity="0.59"/>
<circle cx="130.72" cy="667.87" r="0.34" fill="#6b76b2" opacity="0.38"/>
<circle cx="142.81" cy="657.76" r="0.44" fill="#6b76b2" opacity="0.40"/>
<circle cx="120.59" cy="663.57" r="0.46" fill="#6b76b2" opacity="0.39"/>
<circle cx="125.72" cy="679.27" r="0.29" fill="#6b76b2" opacity="0.36"/>
<circle cx="133.46" cy="663.42" r="0.29" fill="#6b76b2" opacity="0.32"/>
<circle cx="128.63" cy="677.00" r="0.31" fill="#6b76b2" opacity="0.37"/>
<circle cx="128.89" cy="674.26" r="0.40" fill="#6b76b2" opacity="0.37"/>
<circle cx="118.14" cy="676.66" r="0.27" fill="#6b76b2" opacity="0.30"/>
<circle cx="135.40" cy="656.67" r="0.44" fill="#6b76b2" opacity="0.30"/>
<circle cx="112.98" cy="663.51" r="0.33" fill="#6b76b2" opacity="0.52"/>
<circle cx="120.35" cy="658.86" r="0.50" fill="#6b76b2" opacity="0.39"/>
<circle cx="115.28" cy="668.03" r="0.33" fill="#6b76b2" opacity="0.54"/>
<circle cx="117.86" cy="658.18" r="0.38" fill="#6b76b2" opacity="0.59"/>
<circle cx="144.51" cy="664.70" r="0.36" fill="#6b76b2" opacity="0.39"/>
<circle cx="125.03" cy="665.22" r="0.28" fill="#6b76b2" opacity="0.60"/>
<circle cx="140.29" cy="677.87" r="0.42" fill="#6b76b2" opacity="0.57"/>
<circle cx="137.15" cy="670.26" r="0.45" fill="#6b76b2" opacity="0.25"/>
<circle cx="136.75" cy="672.12" r="0.29" fill="#6b76b2" opacity="0.30"/>
<circle cx="126.17" cy="661.21" r="0.49" fill="#6b76b2" opacity="0.48"/>
<circle cx="144.29" cy="670.84" r="0.31" fill="#6b76b2" opacity="0.42"/>
<circle cx="122.70" cy="663.48" r="0.38" fill="#6b76b2" opacity="0.27"/>
<circle cx="133.86" cy="681.54" r="0.46" fill="#6b76b2" opacity="0.43"/>
<circle cx="121.98" cy="651.09" r="0.28" fill="#6b76b2" opacity="0.42"/>
<circle cx="132.69" cy="670.14" r="0.28" fill="#6b76b2" opacity="0.32"/>
<circle cx="136.27" cy="668.43" r="0.34" fill="#6b76b2" opacity="0.47"/>
<circle cx="139.06" cy="653.05" r="0.43" fill="#6b76b2" opacity="0.43"/>
<circle cx="134.75" cy="662.32" r="0.28" fill="#6b76b2" opacity="0.54"/>
<circle cx="123.17" cy="660.12" r="0.34" fill="#6b76b2" opacity="0.35"/>
<circle cx="118.45" cy="670.56" r="0.35" fill="#6b76b2" opacity="0.53"/>
<circle cx="133.58" cy="653.80" r="0.37" fill="#6b76b2" opacity="0.35"/>
<circle cx="130.35" cy="648.71" r="0.31" fill="#6b76b2" opacity="0.50"/>
<circle cx="124.29" cy="652.49" r="0.26" fill="#6b76b2" opacity="0.44"/>
<circle cx="130.96" cy="673.07" r="0.39" fill="#6b76b2" opacity="0.48"/>
<circle cx="118.20" cy="655.25" r="0.43" fill="#6b76b2" opacity="0.42"/>
<circle cx="143.21" cy="670.29" r="0.46" fill="#6b76b2" opacity="0.54"/>
<circle cx="125.95" cy="663.85" r="0.30" fill="#6b76b2" opacity="0.29"/>
<circle cx="120.32" cy="656.19" r="0.30" fill="#6b76b2" opacity="0.58"/>
<circle cx="144.93" cy="663.54" r="0.37" fill="#6b76b2" opacity="0.35"/>
<circle cx="132.71" cy="680.97" r="0.43" fill="#6b76b2" opacity="0.35"/>
<circle cx="139.36" cy="658.30" r="0.35" fill="#6b76b2" opacity="0.40"/>
<circle cx="126.55" cy="654.34" r="0.41" fill="#6b76b2" opacity="0.29"/>
<circle cx="126.04" cy="657.19" r="0.48" fill="#6b76b2" opacity="0.33"/>
<circle cx="122.37" cy="676.78" r="0.35" fill="#6b76b2" opacity="0.43"/>
<circle cx="135.58" cy="662.23" r="0.44" fill="#6b76b2" opacity="0.49"/>
<circle cx="131.31" cy="654.54" r="0.36" fill="#6b76b2" opacity="0.37"/>
<circle cx="120.10" cy="667.26" r="0.30" fill="#6b76b2" opacity="0.42"/>
<rect x="106.70" y="645.00" width="44.00" height="41.60" fill="none" stroke="#1a1a1a" stroke-width="1.3"/>
<text x="199.98" y="544.90" font-size="12.8" font-weight="bold" fill="#1a1a1a" textLength="46.04" lengthAdjust="spacingAndGlyphs">LN-229</text>
<line x1="172.90" y1="583.50" x2="172.90" y2="686.45" stroke="#1a1a1a" stroke-width="1.5"/>
<line x1="169.30" y1="595.20" x2="172.90" y2="595.20" stroke="#1a1a1a" stroke-width="1.35"/>
<text x="156.57" y="597.47" font-size="6.3" font-weight="bold" fill="#222" stroke="#222" stroke-width="0.18" textLength="11.52" lengthAdjust="spacingAndGlyphs">150</text>
<line x1="169.30" y1="625.40" x2="172.90" y2="625.40" stroke="#1a1a1a" stroke-width="1.35"/>
<text x="156.57" y="627.67" font-size="6.3" font-weight="bold" fill="#222" stroke="#222" stroke-width="0.18" textLength="11.52" lengthAdjust="spacingAndGlyphs">100</text>
<line x1="169.30" y1="655.40" x2="172.90" y2="655.40" stroke="#1a1a1a" stroke-width="1.35"/>
<text x="160.39" y="657.67" font-size="6.3" font-weight="bold" fill="#222" stroke="#222" stroke-width="0.18" textLength="7.70" lengthAdjust="spacingAndGlyphs">50</text>
<line x1="169.30" y1="685.70" x2="172.90" y2="685.70" stroke="#1a1a1a" stroke-width="1.35"/>
<text x="163.90" y="687.97" font-size="6.3" font-weight="bold" fill="#222" stroke="#222" stroke-width="0.18" textLength="4.21" lengthAdjust="spacingAndGlyphs">0</text>
<line x1="172.90" y1="685.70" x2="240.30" y2="685.70" stroke="#1a1a1a" stroke-width="1.6"/>
<line x1="191.70" y1="577.00" x2="224.00" y2="577.00" stroke="#222" stroke-width="1.3"/>
<text x="208.20" y="573.59" font-size="5.9" fill="#2a2a2a" text-anchor="middle">ns</text>
<path d="M191.60,584.80 C191.67,585.33 191.85,586.62 192.00,588.00 C192.15,589.38 192.05,591.52 192.50,593.10 C192.95,594.68 194.12,596.18 194.70,597.50 C195.28,598.82 195.67,599.68 196.00,601.00 C196.33,602.32 196.78,603.93 196.70,605.40 C196.62,606.87 196.03,608.33 195.50,609.80 C194.97,611.27 193.50,612.75 193.50,614.20 C193.50,615.65 194.65,617.05 195.50,618.50 C196.35,619.95 197.72,621.43 198.60,622.90 C199.48,624.37 200.37,626.20 200.80,627.30 C201.23,628.40 201.35,628.62 201.20,629.50 C201.05,630.38 200.77,631.37 199.90,632.60 C199.03,633.83 197.17,635.45 196.00,636.90 C194.83,638.35 193.55,639.95 192.90,641.30 C192.25,642.65 192.32,643.10 192.10,645.00 C191.88,646.90 191.77,652.70 191.60,652.70 C191.43,652.70 191.32,646.90 191.10,645.00 C190.88,643.10 190.95,642.65 190.30,641.30 C189.65,639.95 188.37,638.35 187.20,636.90 C186.03,635.45 184.17,633.83 183.30,632.60 C182.43,631.37 182.15,630.38 182.00,629.50 C181.85,628.62 181.97,628.40 182.40,627.30 C182.83,626.20 183.72,624.37 184.60,622.90 C185.48,621.43 186.85,619.95 187.70,618.50 C188.55,617.05 189.70,615.65 189.70,614.20 C189.70,612.75 188.23,611.27 187.70,609.80 C187.17,608.33 186.58,606.87 186.50,605.40 C186.42,603.93 186.87,602.32 187.20,601.00 C187.53,599.68 187.92,598.82 188.50,597.50 C189.08,596.18 190.25,594.68 190.70,593.10 C191.15,591.52 191.05,589.38 191.20,588.00 C191.35,586.62 191.53,585.33 191.60,584.80 Z" fill="#9b9c9e" stroke="#111" stroke-width="1.2" stroke-linejoin="round"/>
<line x1="187.10" y1="605.40" x2="196.10" y2="605.40" stroke="#222" stroke-width="0.8" stroke-dasharray="1.2,1.2"/>
<line x1="183.00" y1="627.30" x2="200.20" y2="627.30" stroke="#222" stroke-width="0.9199999999999999" stroke-dasharray="2.6,1.4"/>
<line x1="183.31" y1="631.20" x2="199.89" y2="631.20" stroke="#222" stroke-width="0.8" stroke-dasharray="1.2,1.2"/>
<path d="M221.00,630.40 C221.52,630.68 222.78,631.60 224.10,632.10 C225.42,632.60 227.95,632.97 228.90,633.40 C229.85,633.83 229.55,634.03 229.80,634.70 C230.05,635.37 230.48,636.45 230.40,637.40 C230.32,638.35 230.22,639.60 229.30,640.40 C228.38,641.20 226.28,641.50 224.90,642.20 C223.52,642.90 222.30,644.60 221.00,644.60 C219.70,644.60 218.48,642.90 217.10,642.20 C215.72,641.50 213.62,641.20 212.70,640.40 C211.78,639.60 211.68,638.35 211.60,637.40 C211.52,636.45 211.95,635.37 212.20,634.70 C212.45,634.03 212.15,633.83 213.10,633.40 C214.05,632.97 216.58,632.60 217.90,632.10 C219.22,631.60 220.48,630.68 221.00,630.40 Z" fill="#c9dde8" stroke="#111" stroke-width="1.2" stroke-linejoin="round"/>
<line x1="213.08" y1="634.30" x2="228.92" y2="634.30" stroke="#222" stroke-width="0.8" stroke-dasharray="1.2,1.2"/>
<line x1="212.20" y1="637.40" x2="229.80" y2="637.40" stroke="#222" stroke-width="0.9199999999999999" stroke-dasharray="2.6,1.4"/>
<line x1="213.30" y1="640.40" x2="228.70" y2="640.40" stroke="#222" stroke-width="0.8" stroke-dasharray="1.2,1.2"/>
<text x="186.57" y="694.90" font-size="6.9" font-weight="normal" fill="#333" stroke="#333" stroke-width="0.18" textLength="10.99" lengthAdjust="spacingAndGlyphs">WT</text>
<text x="206.68" y="694.90" font-size="6.9" font-weight="normal" fill="#333" stroke="#333" stroke-width="0.18" textLength="29.66" lengthAdjust="spacingAndGlyphs">SOD1KO</text>
<text x="214.77" y="702.70" font-size="6.9" font-weight="normal" fill="#333" stroke="#333" stroke-width="0.18" textLength="9.32" lengthAdjust="spacingAndGlyphs"># 3</text>
<text x="263.77" y="568.60" font-size="6.9" font-weight="normal" fill="#333" stroke="#333" stroke-width="0.18" textLength="10.79" lengthAdjust="spacingAndGlyphs">WT</text>
<radialGradient id="pl3" cx="0.5" cy="0.5" r="0.5"><stop offset="0" stop-color="#ccd1dd"/><stop offset="0.8" stop-color="#ccd1dd"/><stop offset="1" stop-color="#dadee6"/></radialGradient>
<rect x="248.30" y="574.30" width="42.50" height="40.90" fill="#b9bfca"/>
<circle cx="269.55" cy="594.75" r="18.85" fill="url(#pl3)" stroke="#dadee6" stroke-width="1.0"/>
<circle cx="270.50" cy="607.23" r="0.34" fill="#6b76b2" opacity="0.46"/>
<circle cx="266.49" cy="591.67" r="0.25" fill="#6b76b2" opacity="0.54"/>
<circle cx="269.07" cy="602.95" r="0.50" fill="#6b76b2" opacity="0.41"/>
<circle cx="275.60" cy="584.73" r="0.41" fill="#6b76b2" opacity="0.30"/>
<circle cx="259.09" cy="582.90" r="0.38" fill="#6b76b2" opacity="0.51"/>
<circle cx="267.51" cy="590.97" r="0.44" fill="#6b76b2" opacity="0.46"/>
<circle cx="268.60" cy="597.58" r="0.47" fill="#6b76b2" opacity="0.42"/>
<circle cx="266.45" cy="579.15" r="0.43" fill="#6b76b2" opacity="0.57"/>
<circle cx="257.56" cy="604.06" r="0.36" fill="#6b76b2" opacity="0.58"/>
<circle cx="273.38" cy="591.10" r="0.28" fill="#6b76b2" opacity="0.33"/>
<circle cx="280.49" cy="592.34" r="0.41" fill="#6b76b2" opacity="0.36"/>
<circle cx="259.02" cy="594.27" r="0.34" fill="#6b76b2" opacity="0.45"/>
<circle cx="255.63" cy="586.61" r="0.42" fill="#6b76b2" opacity="0.58"/>
<circle cx="280.02" cy="581.50" r="0.42" fill="#6b76b2" opacity="0.31"/>
<circle cx="280.22" cy="581.95" r="0.48" fill="#6b76b2" opacity="0.45"/>
<circle cx="267.79" cy="587.16" r="0.46" fill="#6b76b2" opacity="0.45"/>
<circle cx="268.62" cy="598.92" r="0.46" fill="#6b76b2" opacity="0.60"/>
<circle cx="282.44" cy="602.76" r="0.35" fill="#6b76b2" opacity="0.30"/>
<circle cx="265.50" cy="609.06" r="0.47" fill="#6b76b2" opacity="0.27"/>
<circle cx="266.85" cy="592.38" r="0.43" fill="#6b76b2" opacity="0.37"/>
<circle cx="281.86" cy="583.32" r="0.38" fill="#6b76b2" opacity="0.60"/>
<circle cx="267.83" cy="599.13" r="0.40" fill="#6b76b2" opacity="0.26"/>
<circle cx="273.07" cy="605.00" r="0.40" fill="#6b76b2" opacity="0.30"/>
<circle cx="284.80" cy="598.91" r="0.33" fill="#6b76b2" opacity="0.59"/>
<circle cx="277.85" cy="588.44" r="0.37" fill="#6b76b2" opacity="0.43"/>
<circle cx="261.45" cy="584.46" r="0.39" fill="#6b76b2" opacity="0.47"/>
<circle cx="280.80" cy="590.34" r="0.36" fill="#6b76b2" opacity="0.50"/>
<circle cx="270.27" cy="604.03" r="0.49" fill="#6b76b2" opacity="0.43"/>
<circle cx="267.82" cy="594.21" r="0.35" fill="#6b76b2" opacity="0.45"/>
<circle cx="282.76" cy="596.42" r="0.41" fill="#6b76b2" opacity="0.27"/>
<circle cx="261.48" cy="586.44" r="0.42" fill="#6b76b2" opacity="0.37"/>
<circle cx="265.65" cy="580.71" r="0.26" fill="#6b76b2" opacity="0.27"/>
<circle cx="262.08" cy="579.87" r="0.31" fill="#6b76b2" opacity="0.41"/>
<circle cx="261.53" cy="589.47" r="0.34" fill="#6b76b2" opacity="0.36"/>
<circle cx="260.64" cy="604.34" r="0.33" fill="#6b76b2" opacity="0.38"/>
<circle cx="269.94" cy="591.99" r="0.39" fill="#6b76b2" opacity="0.51"/>
<circle cx="266.60" cy="602.19" r="0.45" fill="#6b76b2" opacity="0.33"/>
<circle cx="273.84" cy="605.09" r="0.42" fill="#6b76b2" opacity="0.29"/>
<circle cx="265.27" cy="603.57" r="0.46" fill="#6b76b2" opacity="0.40"/>
<circle cx="273.85" cy="589.25" r="0.33" fill="#6b76b2" opacity="0.48"/>
<circle cx="278.09" cy="587.21" r="0.31" fill="#6b76b2" opacity="0.29"/>
<circle cx="262.27" cy="593.38" r="0.45" fill="#6b76b2" opacity="0.54"/>
<circle cx="273.18" cy="602.94" r="0.45" fill="#6b76b2" opacity="0.47"/>
<circle cx="273.00" cy="585.40" r="0.28" fill="#6b76b2" opacity="0.35"/>
<circle cx="271.95" cy="586.25" r="0.34" fill="#6b76b2" opacity="0.40"/>
<circle cx="260.04" cy="599.99" r="0.48" fill="#6b76b2" opacity="0.30"/>
<circle cx="286.02" cy="595.23" r="0.47" fill="#6b76b2" opacity="0.60"/>
<circle cx="254.40" cy="601.38" r="0.48" fill="#6b76b2" opacity="0.33"/>
<circle cx="269.11" cy="579.24" r="0.42" fill="#6b76b2" opacity="0.43"/>
<circle cx="267.14" cy="604.36" r="0.31" fill="#6b76b2" opacity="0.27"/>
<circle cx="261.84" cy="589.94" r="0.45" fill="#6b76b2" opacity="0.27"/>
<circle cx="281.17" cy="586.70" r="0.48" fill="#6b76b2" opacity="0.56"/>
<circle cx="279.96" cy="587.15" r="0.25" fill="#6b76b2" opacity="0.51"/>
<circle cx="273.93" cy="602.94" r="0.42" fill="#6b76b2" opacity="0.43"/>
<circle cx="255.47" cy="603.23" r="0.40" fill="#6b76b2" opacity="0.37"/>
<circle cx="269.31" cy="610.50" r="0.37" fill="#6b76b2" opacity="0.52"/>
<circle cx="265.05" cy="600.80" r="0.38" fill="#6b76b2" opacity="0.54"/>
<circle cx="276.71" cy="608.04" r="0.48" fill="#6b76b2" opacity="0.53"/>
<circle cx="270.20" cy="593.43" r="0.41" fill="#6b76b2" opacity="0.55"/>
<circle cx="277.96" cy="597.48" r="0.32" fill="#6b76b2" opacity="0.43"/>
<circle cx="259.22" cy="600.18" r="0.44" fill="#6b76b2" opacity="0.25"/>
<circle cx="275.24" cy="596.79" r="0.28" fill="#6b76b2" opacity="0.27"/>
<circle cx="285.03" cy="592.26" r="0.27" fill="#6b76b2" opacity="0.43"/>
<circle cx="265.72" cy="603.46" r="0.34" fill="#6b76b2" opacity="0.48"/>
<circle cx="260.83" cy="589.47" r="0.30" fill="#6b76b2" opacity="0.37"/>
<circle cx="278.56" cy="603.62" r="0.43" fill="#6b76b2" opacity="0.38"/>
<circle cx="275.83" cy="598.20" r="0.34" fill="#6b76b2" opacity="0.46"/>
<circle cx="271.68" cy="584.51" r="0.45" fill="#6b76b2" opacity="0.47"/>
<circle cx="260.14" cy="599.06" r="0.37" fill="#6b76b2" opacity="0.50"/>
<circle cx="257.14" cy="601.52" r="0.37" fill="#6b76b2" opacity="0.34"/>
<circle cx="255.76" cy="591.59" r="0.27" fill="#6b76b2" opacity="0.40"/>
<circle cx="255.33" cy="601.90" r="0.48" fill="#6b76b2" opacity="0.38"/>
<circle cx="281.63" cy="585.72" r="0.32" fill="#6b76b2" opacity="0.41"/>
<circle cx="280.49" cy="605.44" r="0.42" fill="#6b76b2" opacity="0.56"/>
<circle cx="273.20" cy="581.38" r="0.43" fill="#6b76b2" opacity="0.45"/>
<circle cx="279.92" cy="602.60" r="0.25" fill="#6b76b2" opacity="0.30"/>
<circle cx="270.09" cy="591.22" r="0.27" fill="#6b76b2" opacity="0.28"/>
<circle cx="274.80" cy="589.85" r="0.26" fill="#6b76b2" opacity="0.54"/>
<circle cx="280.82" cy="605.51" r="0.42" fill="#6b76b2" opacity="0.54"/>
<circle cx="281.89" cy="590.94" r="0.45" fill="#6b76b2" opacity="0.26"/>
<circle cx="270.87" cy="582.69" r="0.43" fill="#6b76b2" opacity="0.29"/>
<circle cx="269.44" cy="578.35" r="0.27" fill="#6b76b2" opacity="0.36"/>
<circle cx="255.34" cy="588.71" r="0.31" fill="#6b76b2" opacity="0.31"/>
<circle cx="269.55" cy="608.06" r="0.44" fill="#6b76b2" opacity="0.39"/>
<circle cx="262.36" cy="602.65" r="0.34" fill="#6b76b2" opacity="0.40"/>
<circle cx="279.94" cy="600.74" r="0.49" fill="#6b76b2" opacity="0.39"/>
<circle cx="269.44" cy="587.95" r="0.42" fill="#6b76b2" opacity="0.51"/>
<circle cx="263.93" cy="583.92" r="0.37" fill="#6b76b2" opacity="0.48"/>
<circle cx="274.79" cy="590.81" r="0.27" fill="#6b76b2" opacity="0.51"/>
<circle cx="280.11" cy="588.64" r="0.36" fill="#6b76b2" opacity="0.50"/>
<circle cx="272.98" cy="602.82" r="0.30" fill="#6b76b2" opacity="0.45"/>
<circle cx="266.31" cy="602.26" r="0.42" fill="#6b76b2" opacity="0.58"/>
<circle cx="265.50" cy="608.41" r="0.35" fill="#6b76b2" opacity="0.55"/>
<circle cx="261.99" cy="590.30" r="0.30" fill="#6b76b2" opacity="0.26"/>
<circle cx="259.14" cy="596.10" r="0.29" fill="#6b76b2" opacity="0.38"/>
<circle cx="263.02" cy="608.17" r="0.29" fill="#6b76b2" opacity="0.60"/>
<circle cx="256.53" cy="596.43" r="0.37" fill="#6b76b2" opacity="0.54"/>
<circle cx="275.06" cy="583.35" r="0.37" fill="#6b76b2" opacity="0.50"/>
<circle cx="276.21" cy="586.34" r="0.43" fill="#6b76b2" opacity="0.59"/>
<circle cx="261.59" cy="596.40" r="0.31" fill="#6b76b2" opacity="0.50"/>
<circle cx="262.04" cy="579.93" r="0.46" fill="#6b76b2" opacity="0.33"/>
<circle cx="272.75" cy="602.76" r="0.30" fill="#6b76b2" opacity="0.50"/>
<circle cx="279.70" cy="582.26" r="0.31" fill="#6b76b2" opacity="0.55"/>
<circle cx="265.27" cy="604.92" r="0.43" fill="#6b76b2" opacity="0.28"/>
<circle cx="282.49" cy="603.27" r="0.32" fill="#6b76b2" opacity="0.37"/>
<circle cx="257.34" cy="588.01" r="0.25" fill="#6b76b2" opacity="0.37"/>
<circle cx="258.66" cy="599.36" r="0.30" fill="#6b76b2" opacity="0.45"/>
<circle cx="279.74" cy="591.81" r="0.39" fill="#6b76b2" opacity="0.29"/>
<circle cx="267.41" cy="608.42" r="0.28" fill="#6b76b2" opacity="0.56"/>
<circle cx="273.99" cy="591.88" r="0.49" fill="#6b76b2" opacity="0.38"/>
<circle cx="271.62" cy="580.13" r="0.32" fill="#6b76b2" opacity="0.49"/>
<circle cx="260.91" cy="582.20" r="0.32" fill="#6b76b2" opacity="0.51"/>
<circle cx="283.06" cy="591.40" r="0.38" fill="#6b76b2" opacity="0.29"/>
<circle cx="259.49" cy="595.14" r="0.43" fill="#6b76b2" opacity="0.49"/>
<circle cx="262.93" cy="591.82" r="0.41" fill="#6b76b2" opacity="0.47"/>
<circle cx="276.45" cy="609.19" r="0.41" fill="#6b76b2" opacity="0.29"/>
<circle cx="275.35" cy="592.10" r="0.33" fill="#6b76b2" opacity="0.50"/>
<circle cx="259.21" cy="587.49" r="0.41" fill="#6b76b2" opacity="0.41"/>
<circle cx="266.83" cy="601.33" r="0.27" fill="#6b76b2" opacity="0.50"/>
<circle cx="269.90" cy="582.25" r="0.43" fill="#6b76b2" opacity="0.38"/>
<circle cx="268.51" cy="605.20" r="0.47" fill="#6b76b2" opacity="0.26"/>
<circle cx="261.12" cy="594.50" r="0.44" fill="#6b76b2" opacity="0.37"/>
<circle cx="264.19" cy="604.10" r="0.39" fill="#6b76b2" opacity="0.52"/>
<circle cx="260.15" cy="607.21" r="0.28" fill="#6b76b2" opacity="0.34"/>
<circle cx="274.16" cy="598.09" r="0.44" fill="#6b76b2" opacity="0.50"/>
<circle cx="272.49" cy="601.52" r="0.35" fill="#6b76b2" opacity="0.51"/>
<circle cx="275.44" cy="581.30" r="0.40" fill="#6b76b2" opacity="0.30"/>
<circle cx="263.55" cy="599.20" r="0.38" fill="#6b76b2" opacity="0.45"/>
<circle cx="272.07" cy="602.85" r="0.45" fill="#6b76b2" opacity="0.26"/>
<circle cx="274.80" cy="579.62" r="0.49" fill="#6b76b2" opacity="0.38"/>
<circle cx="257.30" cy="590.55" r="0.41" fill="#6b76b2" opacity="0.59"/>
<circle cx="265.95" cy="586.19" r="0.47" fill="#6b76b2" opacity="0.42"/>
<circle cx="257.92" cy="586.15" r="0.25" fill="#6b76b2" opacity="0.52"/>
<circle cx="263.30" cy="584.63" r="0.38" fill="#6b76b2" opacity="0.41"/>
<circle cx="273.85" cy="606.32" r="0.26" fill="#6b76b2" opacity="0.43"/>
<circle cx="262.67" cy="585.77" r="0.39" fill="#6b76b2" opacity="0.59"/>
<circle cx="274.41" cy="590.83" r="0.45" fill="#6b76b2" opacity="0.47"/>
<circle cx="279.22" cy="597.93" r="0.31" fill="#6b76b2" opacity="0.28"/>
<circle cx="253.68" cy="590.79" r="0.33" fill="#6b76b2" opacity="0.55"/>
<circle cx="267.43" cy="588.90" r="0.46" fill="#6b76b2" opacity="0.46"/>
<circle cx="282.42" cy="588.39" r="0.43" fill="#6b76b2" opacity="0.37"/>
<circle cx="275.26" cy="579.40" r="0.47" fill="#6b76b2" opacity="0.40"/>
<circle cx="270.06" cy="582.95" r="0.28" fill="#6b76b2" opacity="0.26"/>
<circle cx="276.25" cy="598.32" r="0.29" fill="#6b76b2" opacity="0.42"/>
<circle cx="265.65" cy="582.94" r="0.36" fill="#6b76b2" opacity="0.48"/>
<circle cx="265.66" cy="605.64" r="0.44" fill="#6b76b2" opacity="0.39"/>
<circle cx="276.35" cy="609.33" r="0.43" fill="#6b76b2" opacity="0.38"/>
<circle cx="261.05" cy="603.70" r="0.40" fill="#6b76b2" opacity="0.33"/>
<circle cx="277.30" cy="594.88" r="0.45" fill="#6b76b2" opacity="0.30"/>
<circle cx="262.29" cy="596.62" r="0.30" fill="#6b76b2" opacity="0.31"/>
<circle cx="263.83" cy="598.71" r="0.26" fill="#6b76b2" opacity="0.29"/>
<circle cx="275.39" cy="605.10" r="0.26" fill="#6b76b2" opacity="0.26"/>
<circle cx="259.29" cy="598.23" r="0.43" fill="#6b76b2" opacity="0.27"/>
<circle cx="260.78" cy="600.85" r="0.26" fill="#6b76b2" opacity="0.59"/>
<circle cx="270.56" cy="599.86" r="0.37" fill="#6b76b2" opacity="0.31"/>
<circle cx="262.38" cy="587.80" r="0.28" fill="#6b76b2" opacity="0.27"/>
<circle cx="268.30" cy="585.94" r="0.45" fill="#6b76b2" opacity="0.41"/>
<circle cx="278.04" cy="590.94" r="0.31" fill="#6b76b2" opacity="0.34"/>
<circle cx="274.87" cy="582.39" r="0.34" fill="#6b76b2" opacity="0.28"/>
<circle cx="262.67" cy="579.53" r="0.40" fill="#6b76b2" opacity="0.25"/>
<rect x="248.30" y="574.30" width="42.50" height="40.90" fill="none" stroke="#1a1a1a" stroke-width="1.3"/>
<text x="255.27" y="631.50" font-size="6.9" font-weight="normal" fill="#333" stroke="#333" stroke-width="0.18" textLength="30.18" lengthAdjust="spacingAndGlyphs">SOD1KO</text>
<text x="263.17" y="639.70" font-size="6.9" font-weight="normal" fill="#333" stroke="#333" stroke-width="0.18" textLength="9.53" lengthAdjust="spacingAndGlyphs"># 3</text>
<radialGradient id="pl4" cx="0.5" cy="0.5" r="0.5"><stop offset="0" stop-color="#bfc8ce"/><stop offset="0.8" stop-color="#bfc8ce"/><stop offset="1" stop-color="#d2d8dc"/></radialGradient>
<rect x="248.30" y="645.40" width="42.50" height="40.30" fill="#adb6bc"/>
<circle cx="269.55" cy="665.55" r="18.55" fill="url(#pl4)" stroke="#d2d8dc" stroke-width="1.0"/>
<circle cx="270.02" cy="670.89" r="0.35" fill="#6a7aa0" opacity="0.30"/>
<circle cx="279.22" cy="669.84" r="0.48" fill="#6a7aa0" opacity="0.53"/>
<circle cx="270.30" cy="657.72" r="0.38" fill="#6a7aa0" opacity="0.35"/>
<circle cx="272.09" cy="670.36" r="0.30" fill="#6a7aa0" opacity="0.57"/>
<circle cx="276.68" cy="652.36" r="0.45" fill="#6a7aa0" opacity="0.32"/>
<circle cx="264.70" cy="677.85" r="0.43" fill="#6a7aa0" opacity="0.55"/>
<circle cx="273.13" cy="662.19" r="0.40" fill="#6a7aa0" opacity="0.49"/>
<circle cx="262.52" cy="665.29" r="0.37" fill="#6a7aa0" opacity="0.28"/>
<circle cx="283.79" cy="659.34" r="0.39" fill="#6a7aa0" opacity="0.36"/>
<circle cx="280.16" cy="658.70" r="0.47" fill="#6a7aa0" opacity="0.55"/>
<circle cx="258.82" cy="664.99" r="0.40" fill="#6a7aa0" opacity="0.40"/>
<circle cx="274.43" cy="673.38" r="0.45" fill="#6a7aa0" opacity="0.27"/>
<circle cx="282.21" cy="669.34" r="0.32" fill="#6a7aa0" opacity="0.44"/>
<circle cx="259.93" cy="667.31" r="0.50" fill="#6a7aa0" opacity="0.32"/>
<circle cx="263.13" cy="669.47" r="0.41" fill="#6a7aa0" opacity="0.35"/>
<circle cx="260.65" cy="676.91" r="0.33" fill="#6a7aa0" opacity="0.45"/>
<circle cx="273.92" cy="662.55" r="0.27" fill="#6a7aa0" opacity="0.33"/>
<circle cx="270.79" cy="652.51" r="0.31" fill="#6a7aa0" opacity="0.37"/>
<circle cx="274.52" cy="675.71" r="0.26" fill="#6a7aa0" opacity="0.49"/>
<circle cx="282.50" cy="655.62" r="0.43" fill="#6a7aa0" opacity="0.59"/>
<circle cx="278.47" cy="666.57" r="0.49" fill="#6a7aa0" opacity="0.52"/>
<circle cx="255.84" cy="674.20" r="0.41" fill="#6a7aa0" opacity="0.54"/>
<circle cx="267.58" cy="672.58" r="0.36" fill="#6a7aa0" opacity="0.30"/>
<circle cx="257.50" cy="676.64" r="0.33" fill="#6a7aa0" opacity="0.25"/>
<circle cx="276.15" cy="667.46" r="0.45" fill="#6a7aa0" opacity="0.38"/>
<circle cx="268.25" cy="670.59" r="0.50" fill="#6a7aa0" opacity="0.40"/>
<circle cx="270.61" cy="669.48" r="0.26" fill="#6a7aa0" opacity="0.31"/>
<circle cx="266.68" cy="659.76" r="0.26" fill="#6a7aa0" opacity="0.42"/>
<circle cx="269.65" cy="682.22" r="0.28" fill="#6a7aa0" opacity="0.44"/>
<circle cx="271.14" cy="654.99" r="0.50" fill="#6a7aa0" opacity="0.42"/>
<circle cx="270.10" cy="676.23" r="0.26" fill="#6a7aa0" opacity="0.40"/>
<circle cx="269.69" cy="681.29" r="0.46" fill="#6a7aa0" opacity="0.42"/>
<circle cx="277.80" cy="667.21" r="0.31" fill="#6a7aa0" opacity="0.32"/>
<circle cx="271.36" cy="681.01" r="0.29" fill="#6a7aa0" opacity="0.27"/>
<circle cx="280.84" cy="660.06" r="0.50" fill="#6a7aa0" opacity="0.39"/>
<circle cx="280.52" cy="657.68" r="0.45" fill="#6a7aa0" opacity="0.51"/>
<circle cx="264.46" cy="665.73" r="0.30" fill="#6a7aa0" opacity="0.56"/>
<circle cx="282.52" cy="656.09" r="0.33" fill="#6a7aa0" opacity="0.48"/>
<circle cx="273.64" cy="652.81" r="0.45" fill="#6a7aa0" opacity="0.43"/>
<circle cx="261.76" cy="654.13" r="0.32" fill="#6a7aa0" opacity="0.57"/>
<circle cx="273.93" cy="664.31" r="0.49" fill="#6a7aa0" opacity="0.59"/>
<circle cx="267.82" cy="662.48" r="0.47" fill="#6a7aa0" opacity="0.29"/>
<circle cx="282.92" cy="662.87" r="0.27" fill="#6a7aa0" opacity="0.31"/>
<circle cx="261.23" cy="656.09" r="0.44" fill="#6a7aa0" opacity="0.57"/>
<circle cx="269.74" cy="666.49" r="0.48" fill="#6a7aa0" opacity="0.25"/>
<circle cx="273.60" cy="661.57" r="0.45" fill="#6a7aa0" opacity="0.52"/>
<circle cx="278.47" cy="656.95" r="0.47" fill="#6a7aa0" opacity="0.32"/>
<circle cx="265.00" cy="657.10" r="0.47" fill="#6a7aa0" opacity="0.52"/>
<circle cx="257.63" cy="667.71" r="0.26" fill="#6a7aa0" opacity="0.26"/>
<circle cx="259.87" cy="659.02" r="0.47" fill="#6a7aa0" opacity="0.46"/>
<circle cx="276.02" cy="673.25" r="0.44" fill="#6a7aa0" opacity="0.43"/>
<circle cx="284.80" cy="666.56" r="0.46" fill="#6a7aa0" opacity="0.28"/>
<circle cx="259.62" cy="662.78" r="0.45" fill="#6a7aa0" opacity="0.36"/>
<circle cx="270.74" cy="677.14" r="0.49" fill="#6a7aa0" opacity="0.28"/>
<circle cx="279.45" cy="674.22" r="0.47" fill="#6a7aa0" opacity="0.43"/>
<circle cx="255.40" cy="671.79" r="0.44" fill="#6a7aa0" opacity="0.27"/>
<circle cx="274.98" cy="660.54" r="0.33" fill="#6a7aa0" opacity="0.54"/>
<circle cx="256.37" cy="672.53" r="0.29" fill="#6a7aa0" opacity="0.56"/>
<circle cx="272.43" cy="671.32" r="0.37" fill="#6a7aa0" opacity="0.37"/>
<circle cx="254.22" cy="661.42" r="0.43" fill="#6a7aa0" opacity="0.25"/>
<circle cx="264.88" cy="676.96" r="0.37" fill="#6a7aa0" opacity="0.50"/>
<circle cx="264.98" cy="666.00" r="0.31" fill="#6a7aa0" opacity="0.55"/>
<circle cx="260.46" cy="677.00" r="0.50" fill="#6a7aa0" opacity="0.47"/>
<circle cx="263.76" cy="653.87" r="0.33" fill="#6a7aa0" opacity="0.57"/>
<circle cx="253.95" cy="668.83" r="0.33" fill="#6a7aa0" opacity="0.55"/>
<circle cx="272.55" cy="652.83" r="0.36" fill="#6a7aa0" opacity="0.30"/>
<circle cx="270.87" cy="655.59" r="0.42" fill="#6a7aa0" opacity="0.30"/>
<circle cx="275.05" cy="668.69" r="0.45" fill="#6a7aa0" opacity="0.31"/>
<circle cx="277.86" cy="659.66" r="0.39" fill="#6a7aa0" opacity="0.37"/>
<circle cx="265.85" cy="662.04" r="0.35" fill="#6a7aa0" opacity="0.58"/>
<circle cx="275.32" cy="677.76" r="0.33" fill="#6a7aa0" opacity="0.36"/>
<circle cx="271.89" cy="665.89" r="0.49" fill="#6a7aa0" opacity="0.54"/>
<circle cx="274.28" cy="651.32" r="0.49" fill="#6a7aa0" opacity="0.31"/>
<circle cx="259.41" cy="659.62" r="0.39" fill="#6a7aa0" opacity="0.58"/>
<circle cx="270.61" cy="649.15" r="0.28" fill="#6a7aa0" opacity="0.48"/>
<circle cx="263.04" cy="652.69" r="0.40" fill="#6a7aa0" opacity="0.54"/>
<circle cx="264.31" cy="680.75" r="0.35" fill="#6a7aa0" opacity="0.46"/>
<circle cx="280.71" cy="657.10" r="0.33" fill="#6a7aa0" opacity="0.33"/>
<circle cx="263.43" cy="677.27" r="0.50" fill="#6a7aa0" opacity="0.56"/>
<circle cx="260.99" cy="671.75" r="0.45" fill="#6a7aa0" opacity="0.35"/>
<circle cx="267.92" cy="666.56" r="0.30" fill="#6a7aa0" opacity="0.44"/>
<circle cx="264.98" cy="653.28" r="0.34" fill="#6a7aa0" opacity="0.58"/>
<circle cx="264.83" cy="660.94" r="0.27" fill="#6a7aa0" opacity="0.59"/>
<circle cx="285.52" cy="664.32" r="0.40" fill="#6a7aa0" opacity="0.36"/>
<circle cx="276.67" cy="670.15" r="0.31" fill="#6a7aa0" opacity="0.57"/>
<circle cx="281.04" cy="656.35" r="0.29" fill="#6a7aa0" opacity="0.33"/>
<circle cx="264.60" cy="681.03" r="0.29" fill="#6a7aa0" opacity="0.53"/>
<circle cx="264.34" cy="654.35" r="0.49" fill="#6a7aa0" opacity="0.34"/>
<circle cx="263.00" cy="664.54" r="0.27" fill="#6a7aa0" opacity="0.26"/>
<circle cx="267.19" cy="670.87" r="0.27" fill="#6a7aa0" opacity="0.60"/>
<rect x="248.30" y="645.40" width="42.50" height="40.30" fill="none" stroke="#1a1a1a" stroke-width="1.3"/>
<text x="309.22" y="533.80" font-size="22.67" fill="#111" textLength="11.75" lengthAdjust="spacingAndGlyphs">F</text>
<text x="378.99" y="547.30" font-size="13.6" font-weight="bold" fill="#1a1a1a" textLength="55.87" lengthAdjust="spacingAndGlyphs">NCH 690</text>
<text x="361.20" y="559.20" font-size="6.5" font-weight="normal" fill="#1a1a1a" stroke="#1a1a1a" stroke-width="0.18" textLength="92.48" lengthAdjust="spacingAndGlyphs">2 mM glucose, EGF, FGF,  Ø FCS</text>
<line x1="351.50" y1="578.60" x2="351.50" y2="673.30" stroke="#1a1a1a" stroke-width="1.4"/>
<line x1="348.10" y1="578.90" x2="351.50" y2="578.90" stroke="#1a1a1a" stroke-width="1.26"/>
<text x="337.22" y="581.06" font-size="6.0" font-weight="bold" fill="#222" stroke="#222" stroke-width="0.18" textLength="10.33" lengthAdjust="spacingAndGlyphs">100</text>
<line x1="348.10" y1="598.00" x2="351.50" y2="598.00" stroke="#1a1a1a" stroke-width="1.26"/>
<text x="340.64" y="600.16" font-size="6.0" font-weight="bold" fill="#222" stroke="#222" stroke-width="0.18" textLength="6.91" lengthAdjust="spacingAndGlyphs">80</text>
<line x1="348.10" y1="616.40" x2="351.50" y2="616.40" stroke="#1a1a1a" stroke-width="1.26"/>
<text x="340.61" y="618.56" font-size="6.0" font-weight="bold" fill="#222" stroke="#222" stroke-width="0.18" textLength="6.94" lengthAdjust="spacingAndGlyphs">60</text>
<line x1="348.10" y1="635.20" x2="351.50" y2="635.20" stroke="#1a1a1a" stroke-width="1.26"/>
<text x="340.75" y="637.36" font-size="6.0" font-weight="bold" fill="#222" stroke="#222" stroke-width="0.18" textLength="6.80" lengthAdjust="spacingAndGlyphs">40</text>
<line x1="348.10" y1="654.00" x2="351.50" y2="654.00" stroke="#1a1a1a" stroke-width="1.26"/>
<text x="340.62" y="656.16" font-size="6.0" font-weight="bold" fill="#222" stroke="#222" stroke-width="0.18" textLength="6.93" lengthAdjust="spacingAndGlyphs">20</text>
<line x1="348.10" y1="672.60" x2="351.50" y2="672.60" stroke="#1a1a1a" stroke-width="1.26"/>
<text x="343.80" y="674.76" font-size="6.0" font-weight="bold" fill="#222" stroke="#222" stroke-width="0.18" textLength="3.78" lengthAdjust="spacingAndGlyphs">0</text>
<rect x="359.10" y="660.50" width="14.70" height="12.00" fill="#a0aebd" stroke="#2a2a2a" stroke-width="1.3"/>
<line x1="366.45" y1="660.50" x2="366.45" y2="659.10" stroke="#333" stroke-width="1.25"/>
<line x1="362.78" y1="659.10" x2="370.13" y2="659.10" stroke="#333" stroke-width="1.25"/>
<rect x="381.10" y="661.60" width="13.60" height="10.90" fill="#472fa3" stroke="#2a2a2a" stroke-width="1.3"/>
<line x1="387.90" y1="661.60" x2="387.90" y2="660.40" stroke="#333" stroke-width="1.25"/>
<line x1="384.50" y1="660.40" x2="391.30" y2="660.40" stroke="#333" stroke-width="1.25"/>
<rect x="417.30" y="613.70" width="14.20" height="58.80" fill="#a0aebd" stroke="#2a2a2a" stroke-width="1.3"/>
<line x1="424.40" y1="613.70" x2="424.40" y2="610.30" stroke="#333" stroke-width="1.25"/>
<line x1="420.85" y1="610.30" x2="427.95" y2="610.30" stroke="#333" stroke-width="1.25"/>
<rect x="439.00" y="593.70" width="14.00" height="78.80" fill="#472fa3" stroke="#2a2a2a" stroke-width="1.3"/>
<line x1="446.00" y1="593.70" x2="446.00" y2="592.60" stroke="#333" stroke-width="1.25"/>
<line x1="442.50" y1="592.60" x2="449.50" y2="592.60" stroke="#333" stroke-width="1.25"/>
<line x1="351.50" y1="672.60" x2="460.30" y2="672.60" stroke="#1a1a1a" stroke-width="1.6"/>
<path d="M365.90,656.60 V651.00 H388.50 V657.30" stroke="#333" stroke-width="1.3" fill="none"/>
<text x="378.10" y="647.19" font-size="5.9" fill="#2a2a2a" text-anchor="middle">ns</text>
<path d="M424.30,601.70 V580.40 H446.30 V587.60" stroke="#333" stroke-width="1.3" fill="none"/>
<text x="435.60" y="579.72" font-size="8.6" font-weight="bold" fill="#111" text-anchor="middle">*</text>
<text transform="translate(330.40,671.60) rotate(-90)" x="0" y="0" font-size="11.0" font-weight="bold" fill="#1a1a1a" stroke="#1a1a1a" stroke-width="0.2" textLength="98.19" lengthAdjust="spacingAndGlyphs">PI positive cells [%]</text>
<text x="355.12" y="685.00" font-size="6.9" font-weight="normal" fill="#333" stroke="#333" stroke-width="0.18" textLength="16.94" lengthAdjust="spacingAndGlyphs">NTsh</text>
<text x="377.56" y="685.00" font-size="6.9" font-weight="normal" fill="#333" stroke="#333" stroke-width="0.18" textLength="28.02" lengthAdjust="spacingAndGlyphs">SOD1sh</text>
<text x="382.06" y="692.40" font-size="6.9" font-weight="normal" fill="#333" stroke="#333" stroke-width="0.18" textLength="17.51" lengthAdjust="spacingAndGlyphs">Seq1</text>
<text x="414.60" y="685.00" font-size="6.9" font-weight="normal" fill="#333" stroke="#333" stroke-width="0.18" textLength="17.37" lengthAdjust="spacingAndGlyphs">NTsh</text>
<text x="437.97" y="685.00" font-size="6.9" font-weight="normal" fill="#333" stroke="#333" stroke-width="0.18" textLength="27.30" lengthAdjust="spacingAndGlyphs">SOD1sh</text>
<text x="442.07" y="692.40" font-size="6.9" font-weight="normal" fill="#333" stroke="#333" stroke-width="0.18" textLength="16.99" lengthAdjust="spacingAndGlyphs">Seq1</text>
<line x1="353.50" y1="698.50" x2="399.90" y2="698.50" stroke="#222" stroke-width="1.2"/>
<text x="358.62" y="706.40" font-size="6.8" font-weight="bold" fill="#1a1a1a" stroke="#1a1a1a" stroke-width="0.18" textLength="32.83" lengthAdjust="spacingAndGlyphs">Normoxia</text>
<line x1="412.80" y1="698.50" x2="459.80" y2="698.50" stroke="#222" stroke-width="1.2"/>
<text x="422.01" y="706.40" font-size="6.8" font-weight="bold" fill="#1a1a1a" stroke="#1a1a1a" stroke-width="0.18" textLength="28.24" lengthAdjust="spacingAndGlyphs">Hypoxia</text>
<text x="554.35" y="547.10" font-size="13.6" font-weight="bold" fill="#1a1a1a" textLength="47.48" lengthAdjust="spacingAndGlyphs">LN-229</text>
<text x="546.08" y="557.30" font-size="6.5" font-weight="normal" fill="#1a1a1a" stroke="#1a1a1a" stroke-width="0.18" textLength="64.72" lengthAdjust="spacingAndGlyphs">2 mM glucose,  Ø FCS</text>
<line x1="480.00" y1="584.00" x2="480.00" y2="672.70" stroke="#1a1a1a" stroke-width="1.4"/>
<line x1="476.20" y1="584.80" x2="480.00" y2="584.80" stroke="#1a1a1a" stroke-width="1.26"/>
<text x="465.76" y="586.74" font-size="5.4" font-weight="bold" fill="#222" stroke="#222" stroke-width="0.18" textLength="9.37" lengthAdjust="spacingAndGlyphs">100</text>
<line x1="476.20" y1="602.30" x2="480.00" y2="602.30" stroke="#1a1a1a" stroke-width="1.26"/>
<text x="468.86" y="604.24" font-size="5.4" font-weight="bold" fill="#222" stroke="#222" stroke-width="0.18" textLength="6.27" lengthAdjust="spacingAndGlyphs">80</text>
<line x1="476.20" y1="619.60" x2="480.00" y2="619.60" stroke="#1a1a1a" stroke-width="1.26"/>
<text x="468.83" y="621.54" font-size="5.4" font-weight="bold" fill="#222" stroke="#222" stroke-width="0.18" textLength="6.30" lengthAdjust="spacingAndGlyphs">60</text>
<line x1="476.20" y1="637.20" x2="480.00" y2="637.20" stroke="#1a1a1a" stroke-width="1.26"/>
<text x="468.96" y="639.14" font-size="5.4" font-weight="bold" fill="#222" stroke="#222" stroke-width="0.18" textLength="6.17" lengthAdjust="spacingAndGlyphs">40</text>
<line x1="476.20" y1="654.70" x2="480.00" y2="654.70" stroke="#1a1a1a" stroke-width="1.26"/>
<text x="468.84" y="656.64" font-size="5.4" font-weight="bold" fill="#222" stroke="#222" stroke-width="0.18" textLength="6.29" lengthAdjust="spacingAndGlyphs">20</text>
<line x1="476.20" y1="672.00" x2="480.00" y2="672.00" stroke="#1a1a1a" stroke-width="1.26"/>
<text x="471.73" y="673.94" font-size="5.4" font-weight="bold" fill="#222" stroke="#222" stroke-width="0.18" textLength="3.43" lengthAdjust="spacingAndGlyphs">0</text>
<rect x="489.80" y="659.50" width="18.80" height="12.50" fill="#a0aebd" stroke="#2a2a2a" stroke-width="1.3"/>
<line x1="499.20" y1="659.50" x2="499.20" y2="655.70" stroke="#333" stroke-width="1.25"/>
<line x1="494.50" y1="655.70" x2="503.90" y2="655.70" stroke="#333" stroke-width="1.25"/>
<line x1="495.40" y1="662.00" x2="503.00" y2="662.00" stroke="#333" stroke-width="0.8"/>
<line x1="499.20" y1="659.50" x2="499.20" y2="662.00" stroke="#333" stroke-width="0.8"/>
<rect x="519.30" y="667.30" width="18.50" height="4.70" fill="#472fa3" stroke="#2a2a2a" stroke-width="1.3"/>
<line x1="528.55" y1="667.30" x2="528.55" y2="666.40" stroke="#333" stroke-width="1.25"/>
<line x1="523.92" y1="666.40" x2="533.17" y2="666.40" stroke="#333" stroke-width="1.25"/>
<rect x="547.80" y="665.10" width="18.90" height="6.90" fill="#c9dde8" stroke="#2a2a2a" stroke-width="1.3"/>
<line x1="557.25" y1="665.10" x2="557.25" y2="664.20" stroke="#333" stroke-width="1.25"/>
<line x1="552.52" y1="664.20" x2="561.98" y2="664.20" stroke="#333" stroke-width="1.25"/>
<rect x="597.10" y="626.50" width="18.90" height="45.50" fill="#a0aebd" stroke="#2a2a2a" stroke-width="1.3"/>
<line x1="606.55" y1="626.50" x2="606.55" y2="624.30" stroke="#333" stroke-width="1.25"/>
<line x1="601.82" y1="624.30" x2="611.27" y2="624.30" stroke="#333" stroke-width="1.25"/>
<rect x="626.30" y="606.70" width="18.50" height="65.30" fill="#472fa3" stroke="#2a2a2a" stroke-width="1.3"/>
<line x1="635.55" y1="606.70" x2="635.55" y2="605.20" stroke="#333" stroke-width="1.25"/>
<line x1="630.92" y1="605.20" x2="640.17" y2="605.20" stroke="#333" stroke-width="1.25"/>
<rect x="655.20" y="610.20" width="18.80" height="61.80" fill="#c9dde8" stroke="#2a2a2a" stroke-width="1.3"/>
<line x1="664.60" y1="610.20" x2="664.60" y2="609.20" stroke="#333" stroke-width="1.25"/>
<line x1="659.90" y1="609.20" x2="669.30" y2="609.20" stroke="#333" stroke-width="1.25"/>
<line x1="480.00" y1="672.00" x2="683.40" y2="672.00" stroke="#1a1a1a" stroke-width="1.6"/>
<line x1="499.80" y1="582.60" x2="558.80" y2="582.60" stroke="#222" stroke-width="1.3"/>
<text x="529.30" y="578.69" font-size="5.9" fill="#2a2a2a" text-anchor="middle">ns</text>
<line x1="499.80" y1="595.10" x2="526.50" y2="595.10" stroke="#222" stroke-width="1.3"/>
<text x="513.30" y="594.32" font-size="8.6" font-weight="bold" fill="#111" text-anchor="middle">**</text>
<line x1="607.20" y1="582.60" x2="666.80" y2="582.60" stroke="#222" stroke-width="1.3"/>
<text x="637.00" y="581.62" font-size="8.6" font-weight="bold" fill="#111" text-anchor="middle">***</text>
<line x1="607.20" y1="595.10" x2="633.80" y2="595.10" stroke="#222" stroke-width="1.3"/>
<text x="620.70" y="594.32" font-size="8.6" font-weight="bold" fill="#111" text-anchor="middle">***</text>
<text x="491.97" y="685.50" font-size="6.9" font-weight="normal" fill="#333" stroke="#333" stroke-width="0.18" textLength="11.20" lengthAdjust="spacingAndGlyphs">WT</text>
<text x="511.37" y="685.50" font-size="6.9" font-weight="normal" fill="#333" stroke="#333" stroke-width="0.18" textLength="30.18" lengthAdjust="spacingAndGlyphs">SOD1KO</text>
<text x="519.57" y="694.00" font-size="6.9" font-weight="normal" fill="#333" stroke="#333" stroke-width="0.18" textLength="10.41" lengthAdjust="spacingAndGlyphs"># 2</text>
<text x="544.97" y="685.50" font-size="6.9" font-weight="normal" fill="#333" stroke="#333" stroke-width="0.18" textLength="29.87" lengthAdjust="spacingAndGlyphs">SOD1KO</text>
<text x="552.46" y="694.00" font-size="6.9" font-weight="normal" fill="#333" stroke="#333" stroke-width="0.18" textLength="11.40" lengthAdjust="spacingAndGlyphs"># 3</text>
<text x="599.57" y="685.50" font-size="6.9" font-weight="normal" fill="#333" stroke="#333" stroke-width="0.18" textLength="11.81" lengthAdjust="spacingAndGlyphs">WT</text>
<text x="619.67" y="685.50" font-size="6.9" font-weight="normal" fill="#333" stroke="#333" stroke-width="0.18" textLength="30.48" lengthAdjust="spacingAndGlyphs">SOD1KO</text>
<text x="628.47" y="694.00" font-size="6.9" font-weight="normal" fill="#333" stroke="#333" stroke-width="0.18" textLength="10.41" lengthAdjust="spacingAndGlyphs"># 2</text>
<text x="653.27" y="685.50" font-size="6.9" font-weight="normal" fill="#333" stroke="#333" stroke-width="0.18" textLength="30.48" lengthAdjust="spacingAndGlyphs">SOD1KO</text>
<text x="661.47" y="694.00" font-size="6.9" font-weight="normal" fill="#333" stroke="#333" stroke-width="0.18" textLength="10.67" lengthAdjust="spacingAndGlyphs"># 3</text>
<line x1="486.30" y1="698.70" x2="571.40" y2="698.70" stroke="#222" stroke-width="1.2"/>
<text x="511.92" y="709.40" font-size="6.8" font-weight="bold" fill="#1a1a1a" stroke="#1a1a1a" stroke-width="0.18" textLength="33.34" lengthAdjust="spacingAndGlyphs">Normoxia</text>
<line x1="594.90" y1="698.70" x2="680.90" y2="698.70" stroke="#222" stroke-width="1.2"/>
<text x="623.92" y="709.40" font-size="6.8" font-weight="bold" fill="#1a1a1a" stroke="#1a1a1a" stroke-width="0.18" textLength="28.04" lengthAdjust="spacingAndGlyphs">Hypoxia</text>
<text x="5.42" y="753.88" font-size="22.46" fill="#111" textLength="16.80" lengthAdjust="spacingAndGlyphs">G</text>
<text x="56.80" y="753.40" font-size="13.0" font-weight="bold" fill="#1a1a1a" textLength="55.46" lengthAdjust="spacingAndGlyphs">NCH 690</text>
<text x="39.90" y="763.20" font-size="6.5" font-weight="normal" fill="#1a1a1a" stroke="#1a1a1a" stroke-width="0.18" textLength="92.38" lengthAdjust="spacingAndGlyphs">2 mM glucose, EGF, FGF,  Ø FCS</text>
<line x1="30.00" y1="793.10" x2="30.00" y2="898.20" stroke="#1a1a1a" stroke-width="1.4"/>
<line x1="26.40" y1="794.00" x2="30.00" y2="794.00" stroke="#1a1a1a" stroke-width="1.26"/>
<text x="15.35" y="796.38" font-size="6.6" font-weight="bold" fill="#222" stroke="#222" stroke-width="0.18" textLength="9.83" lengthAdjust="spacingAndGlyphs">1.2</text>
<line x1="26.40" y1="828.40" x2="30.00" y2="828.40" stroke="#1a1a1a" stroke-width="1.26"/>
<text x="15.53" y="830.78" font-size="6.6" font-weight="bold" fill="#222" stroke="#222" stroke-width="0.18" textLength="9.58" lengthAdjust="spacingAndGlyphs">0.8</text>
<line x1="26.40" y1="862.90" x2="30.00" y2="862.90" stroke="#1a1a1a" stroke-width="1.26"/>
<text x="15.53" y="865.28" font-size="6.6" font-weight="bold" fill="#222" stroke="#222" stroke-width="0.18" textLength="9.40" lengthAdjust="spacingAndGlyphs">0.4</text>
<line x1="26.40" y1="897.50" x2="30.00" y2="897.50" stroke="#1a1a1a" stroke-width="1.26"/>
<text x="15.53" y="899.88" font-size="6.6" font-weight="bold" fill="#222" stroke="#222" stroke-width="0.18" textLength="9.66" lengthAdjust="spacingAndGlyphs">0.0</text>
<rect x="38.50" y="812.20" width="15.30" height="85.10" fill="#a0aebd" stroke="#2a2a2a" stroke-width="1.3"/>
<line x1="46.15" y1="812.20" x2="46.15" y2="800.00" stroke="#333" stroke-width="1.25"/>
<line x1="42.33" y1="800.00" x2="49.97" y2="800.00" stroke="#333" stroke-width="1.25"/>
<rect x="62.80" y="834.80" width="15.40" height="62.50" fill="#472fa3" stroke="#2a2a2a" stroke-width="1.3"/>
<line x1="70.50" y1="834.80" x2="70.50" y2="830.80" stroke="#333" stroke-width="1.25"/>
<line x1="66.65" y1="830.80" x2="74.35" y2="830.80" stroke="#333" stroke-width="1.25"/>
<rect x="103.50" y="824.10" width="14.90" height="73.20" fill="#a0aebd" stroke="#2a2a2a" stroke-width="1.3"/>
<line x1="110.95" y1="824.10" x2="110.95" y2="818.70" stroke="#333" stroke-width="1.25"/>
<line x1="107.22" y1="818.70" x2="114.68" y2="818.70" stroke="#333" stroke-width="1.25"/>
<rect x="127.30" y="854.40" width="15.40" height="42.90" fill="#472fa3" stroke="#2a2a2a" stroke-width="1.3"/>
<line x1="135.00" y1="854.40" x2="135.00" y2="848.20" stroke="#333" stroke-width="1.25"/>
<line x1="131.15" y1="848.20" x2="138.85" y2="848.20" stroke="#333" stroke-width="1.25"/>
<line x1="30.00" y1="897.50" x2="150.60" y2="897.50" stroke="#1a1a1a" stroke-width="1.6"/>
<path d="M46.00,793.10 V783.30 H70.40 V824.10" stroke="#333" stroke-width="1.3" fill="none"/>
<text x="57.30" y="778.29" font-size="5.9" fill="#2a2a2a" text-anchor="middle">ns</text>
<path d="M110.80,810.50 V801.50 H135.20 V842.80" stroke="#333" stroke-width="1.3" fill="none"/>
<text x="122.30" y="800.62" font-size="8.6" font-weight="bold" fill="#111" text-anchor="middle">*</text>
<text transform="translate(9.70,895.33) rotate(-90)" x="0" y="0" font-size="11.0" font-weight="bold" fill="#1a1a1a" stroke="#1a1a1a" stroke-width="0.2" textLength="99.96" lengthAdjust="spacingAndGlyphs">NADPH/NADP ratio</text>
<text x="35.41" y="912.00" font-size="6.9" font-weight="normal" fill="#333" stroke="#333" stroke-width="0.18" textLength="17.16" lengthAdjust="spacingAndGlyphs">NTsh</text>
<text x="58.47" y="912.00" font-size="6.9" font-weight="normal" fill="#333" stroke="#333" stroke-width="0.18" textLength="27.61" lengthAdjust="spacingAndGlyphs">SOD1sh</text>
<text x="62.98" y="920.20" font-size="6.9" font-weight="normal" fill="#333" stroke="#333" stroke-width="0.18" textLength="16.26" lengthAdjust="spacingAndGlyphs">Seq1</text>
<text x="102.89" y="912.00" font-size="6.9" font-weight="normal" fill="#333" stroke="#333" stroke-width="0.18" textLength="17.90" lengthAdjust="spacingAndGlyphs">NTsh</text>
<text x="126.67" y="912.00" font-size="6.9" font-weight="normal" fill="#333" stroke="#333" stroke-width="0.18" textLength="27.61" lengthAdjust="spacingAndGlyphs">SOD1sh</text>
<text x="131.17" y="920.20" font-size="6.9" font-weight="normal" fill="#333" stroke="#333" stroke-width="0.18" textLength="16.78" lengthAdjust="spacingAndGlyphs">Seq1</text>
<line x1="33.50" y1="925.90" x2="80.60" y2="925.90" stroke="#222" stroke-width="1.2"/>
<text x="39.22" y="933.80" font-size="6.8" font-weight="bold" fill="#1a1a1a" stroke="#1a1a1a" stroke-width="0.18" textLength="33.24" lengthAdjust="spacingAndGlyphs">Normoxia</text>
<line x1="101.70" y1="925.90" x2="148.90" y2="925.90" stroke="#222" stroke-width="1.2"/>
<text x="111.22" y="933.80" font-size="6.8" font-weight="bold" fill="#1a1a1a" stroke="#1a1a1a" stroke-width="0.18" textLength="27.73" lengthAdjust="spacingAndGlyphs">Hypoxia</text>
<text x="212.36" y="753.40" font-size="13.0" font-weight="bold" fill="#1a1a1a" textLength="46.86" lengthAdjust="spacingAndGlyphs">LN-229</text>
<text x="204.28" y="763.20" font-size="6.5" font-weight="normal" fill="#1a1a1a" stroke="#1a1a1a" stroke-width="0.18" textLength="64.61" lengthAdjust="spacingAndGlyphs">2 mM glucose,  Ø FCS</text>
<line x1="173.00" y1="794.90" x2="173.00" y2="898.50" stroke="#1a1a1a" stroke-width="1.4"/>
<line x1="169.30" y1="809.60" x2="173.00" y2="809.60" stroke="#1a1a1a" stroke-width="1.26"/>
<text x="158.36" y="811.90" font-size="6.4" font-weight="bold" fill="#222" stroke="#222" stroke-width="0.18" textLength="9.72" lengthAdjust="spacingAndGlyphs">1.2</text>
<line x1="169.30" y1="839.20" x2="173.00" y2="839.20" stroke="#1a1a1a" stroke-width="1.26"/>
<text x="158.53" y="841.50" font-size="6.4" font-weight="bold" fill="#222" stroke="#222" stroke-width="0.18" textLength="9.48" lengthAdjust="spacingAndGlyphs">0.8</text>
<line x1="169.30" y1="868.50" x2="173.00" y2="868.50" stroke="#1a1a1a" stroke-width="1.26"/>
<text x="158.54" y="870.80" font-size="6.4" font-weight="bold" fill="#222" stroke="#222" stroke-width="0.18" textLength="9.30" lengthAdjust="spacingAndGlyphs">0.4</text>
<line x1="169.30" y1="897.80" x2="173.00" y2="897.80" stroke="#1a1a1a" stroke-width="1.26"/>
<text x="158.53" y="900.10" font-size="6.4" font-weight="bold" fill="#222" stroke="#222" stroke-width="0.18" textLength="9.55" lengthAdjust="spacingAndGlyphs">0.0</text>
<rect x="181.00" y="807.50" width="15.70" height="90.30" fill="#a0aebd" stroke="#2a2a2a" stroke-width="1.3"/>
<line x1="188.85" y1="807.50" x2="188.85" y2="804.30" stroke="#333" stroke-width="1.25"/>
<line x1="184.93" y1="804.30" x2="192.77" y2="804.30" stroke="#333" stroke-width="1.25"/>
<rect x="205.10" y="842.00" width="15.60" height="55.80" fill="#472fa3" stroke="#2a2a2a" stroke-width="1.3"/>
<line x1="212.90" y1="842.00" x2="212.90" y2="840.80" stroke="#333" stroke-width="1.25"/>
<line x1="209.00" y1="840.80" x2="216.80" y2="840.80" stroke="#333" stroke-width="1.25"/>
<rect x="246.00" y="811.20" width="15.00" height="86.60" fill="#a0aebd" stroke="#2a2a2a" stroke-width="1.3"/>
<line x1="253.50" y1="811.20" x2="253.50" y2="807.30" stroke="#333" stroke-width="1.25"/>
<line x1="249.75" y1="807.30" x2="257.25" y2="807.30" stroke="#333" stroke-width="1.25"/>
<rect x="270.30" y="844.50" width="14.90" height="53.30" fill="#472fa3" stroke="#2a2a2a" stroke-width="1.3"/>
<line x1="277.75" y1="844.50" x2="277.75" y2="842.00" stroke="#333" stroke-width="1.25"/>
<line x1="274.02" y1="842.00" x2="281.48" y2="842.00" stroke="#333" stroke-width="1.25"/>
<line x1="173.00" y1="897.80" x2="293.90" y2="897.80" stroke="#1a1a1a" stroke-width="1.6"/>
<path d="M188.50,794.90 V777.00 H213.30 V831.60" stroke="#333" stroke-width="1.3" fill="none"/>
<text x="201.50" y="776.12" font-size="8.6" font-weight="bold" fill="#111" text-anchor="middle">**</text>
<path d="M253.50,801.80 V789.90 H277.80 V831.60" stroke="#333" stroke-width="1.3" fill="none"/>
<text x="265.40" y="788.62" font-size="8.6" font-weight="bold" fill="#111" text-anchor="middle">*</text>
<text x="183.97" y="912.00" font-size="6.9" font-weight="normal" fill="#333" stroke="#333" stroke-width="0.18" textLength="10.89" lengthAdjust="spacingAndGlyphs">WT</text>
<text x="199.78" y="908.20" font-size="6.9" font-weight="normal" fill="#333" stroke="#333" stroke-width="0.18" textLength="29.46" lengthAdjust="spacingAndGlyphs">SOD1KO</text>
<text x="206.57" y="916.40" font-size="6.9" font-weight="normal" fill="#333" stroke="#333" stroke-width="0.18" textLength="10.83" lengthAdjust="spacingAndGlyphs"># 2</text>
<text x="246.77" y="912.00" font-size="6.9" font-weight="normal" fill="#333" stroke="#333" stroke-width="0.18" textLength="10.79" lengthAdjust="spacingAndGlyphs">WT</text>
<text x="262.57" y="908.20" font-size="6.9" font-weight="normal" fill="#333" stroke="#333" stroke-width="0.18" textLength="29.97" lengthAdjust="spacingAndGlyphs">SOD1KO</text>
<text x="270.27" y="916.40" font-size="6.9" font-weight="normal" fill="#333" stroke="#333" stroke-width="0.18" textLength="10.93" lengthAdjust="spacingAndGlyphs"># 2</text>
<line x1="176.80" y1="921.40" x2="226.40" y2="921.40" stroke="#222" stroke-width="1.2"/>
<text x="185.03" y="929.30" font-size="6.8" font-weight="bold" fill="#1a1a1a" stroke="#1a1a1a" stroke-width="0.18" textLength="32.63" lengthAdjust="spacingAndGlyphs">Normoxia</text>
<line x1="243.80" y1="921.40" x2="293.90" y2="921.40" stroke="#222" stroke-width="1.2"/>
<text x="255.02" y="929.30" font-size="6.8" font-weight="bold" fill="#1a1a1a" stroke="#1a1a1a" stroke-width="0.18" textLength="27.73" lengthAdjust="spacingAndGlyphs">Hypoxia</text>
<text x="353.65" y="753.40" font-size="13.0" font-weight="bold" fill="#1a1a1a" textLength="47.38" lengthAdjust="spacingAndGlyphs">LN-229</text>
<text x="346.38" y="763.20" font-size="6.5" font-weight="normal" fill="#1a1a1a" stroke="#1a1a1a" stroke-width="0.18" textLength="64.31" lengthAdjust="spacingAndGlyphs">2 mM glucose,  Ø FCS</text>
<line x1="313.60" y1="794.40" x2="313.60" y2="898.00" stroke="#1a1a1a" stroke-width="1.4"/>
<line x1="309.90" y1="808.80" x2="313.60" y2="808.80" stroke="#1a1a1a" stroke-width="1.26"/>
<text x="298.96" y="811.10" font-size="6.4" font-weight="bold" fill="#222" stroke="#222" stroke-width="0.18" textLength="9.72" lengthAdjust="spacingAndGlyphs">1.2</text>
<line x1="309.90" y1="838.30" x2="313.60" y2="838.30" stroke="#1a1a1a" stroke-width="1.26"/>
<text x="299.13" y="840.60" font-size="6.4" font-weight="bold" fill="#222" stroke="#222" stroke-width="0.18" textLength="9.48" lengthAdjust="spacingAndGlyphs">0.8</text>
<line x1="309.90" y1="867.80" x2="313.60" y2="867.80" stroke="#1a1a1a" stroke-width="1.26"/>
<text x="299.14" y="870.10" font-size="6.4" font-weight="bold" fill="#222" stroke="#222" stroke-width="0.18" textLength="9.30" lengthAdjust="spacingAndGlyphs">0.4</text>
<line x1="309.90" y1="897.30" x2="313.60" y2="897.30" stroke="#1a1a1a" stroke-width="1.26"/>
<text x="299.13" y="899.60" font-size="6.4" font-weight="bold" fill="#222" stroke="#222" stroke-width="0.18" textLength="9.55" lengthAdjust="spacingAndGlyphs">0.0</text>
<rect x="322.30" y="807.30" width="15.40" height="90.00" fill="#a0aebd" stroke="#2a2a2a" stroke-width="1.3"/>
<line x1="330.00" y1="807.30" x2="330.00" y2="803.50" stroke="#333" stroke-width="1.25"/>
<line x1="326.15" y1="803.50" x2="333.85" y2="803.50" stroke="#333" stroke-width="1.25"/>
<rect x="346.40" y="843.50" width="15.10" height="53.80" fill="#c9dde8" stroke="#2a2a2a" stroke-width="1.3"/>
<line x1="353.95" y1="843.50" x2="353.95" y2="839.50" stroke="#333" stroke-width="1.25"/>
<line x1="350.17" y1="839.50" x2="357.73" y2="839.50" stroke="#333" stroke-width="1.25"/>
<rect x="386.40" y="810.50" width="15.30" height="86.80" fill="#a0aebd" stroke="#2a2a2a" stroke-width="1.3"/>
<line x1="394.05" y1="810.50" x2="394.05" y2="806.30" stroke="#333" stroke-width="1.25"/>
<line x1="390.22" y1="806.30" x2="397.87" y2="806.30" stroke="#333" stroke-width="1.25"/>
<rect x="410.40" y="855.90" width="15.60" height="41.40" fill="#c9dde8" stroke="#2a2a2a" stroke-width="1.3"/>
<line x1="418.20" y1="855.90" x2="418.20" y2="854.40" stroke="#333" stroke-width="1.25"/>
<line x1="414.30" y1="854.40" x2="422.10" y2="854.40" stroke="#333" stroke-width="1.25"/>
<line x1="313.60" y1="897.30" x2="434.00" y2="897.30" stroke="#1a1a1a" stroke-width="1.6"/>
<path d="M329.80,795.10 V786.20 H354.60 V832.30" stroke="#333" stroke-width="1.3" fill="none"/>
<text x="342.50" y="784.82" font-size="8.6" font-weight="bold" fill="#111" text-anchor="middle">**</text>
<path d="M394.30,800.60 V791.10 H418.60 V846.00" stroke="#333" stroke-width="1.3" fill="none"/>
<text x="406.70" y="790.22" font-size="8.6" font-weight="bold" fill="#111" text-anchor="middle">*</text>
<text x="324.07" y="911.50" font-size="6.9" font-weight="normal" fill="#333" stroke="#333" stroke-width="0.18" textLength="10.79" lengthAdjust="spacingAndGlyphs">WT</text>
<text x="339.37" y="908.20" font-size="6.9" font-weight="normal" fill="#333" stroke="#333" stroke-width="0.18" textLength="30.48" lengthAdjust="spacingAndGlyphs">SOD1KO</text>
<text x="348.37" y="916.40" font-size="6.9" font-weight="normal" fill="#333" stroke="#333" stroke-width="0.18" textLength="10.26" lengthAdjust="spacingAndGlyphs"># 3</text>
<text x="389.27" y="911.50" font-size="6.9" font-weight="normal" fill="#333" stroke="#333" stroke-width="0.18" textLength="11.40" lengthAdjust="spacingAndGlyphs">WT</text>
<text x="405.17" y="908.20" font-size="6.9" font-weight="normal" fill="#333" stroke="#333" stroke-width="0.18" textLength="30.38" lengthAdjust="spacingAndGlyphs">SOD1KO</text>
<text x="413.37" y="916.40" font-size="6.9" font-weight="normal" fill="#333" stroke="#333" stroke-width="0.18" textLength="10.98" lengthAdjust="spacingAndGlyphs"># 3</text>
<line x1="316.90" y1="921.40" x2="367.00" y2="921.40" stroke="#222" stroke-width="1.2"/>
<text x="325.12" y="929.30" font-size="6.8" font-weight="bold" fill="#1a1a1a" stroke="#1a1a1a" stroke-width="0.18" textLength="33.13" lengthAdjust="spacingAndGlyphs">Normoxia</text>
<line x1="386.80" y1="921.40" x2="437.20" y2="921.40" stroke="#222" stroke-width="1.2"/>
<text x="397.52" y="929.30" font-size="6.8" font-weight="bold" fill="#1a1a1a" stroke="#1a1a1a" stroke-width="0.18" textLength="27.73" lengthAdjust="spacingAndGlyphs">Hypoxia</text>
</svg>
</body></html>
